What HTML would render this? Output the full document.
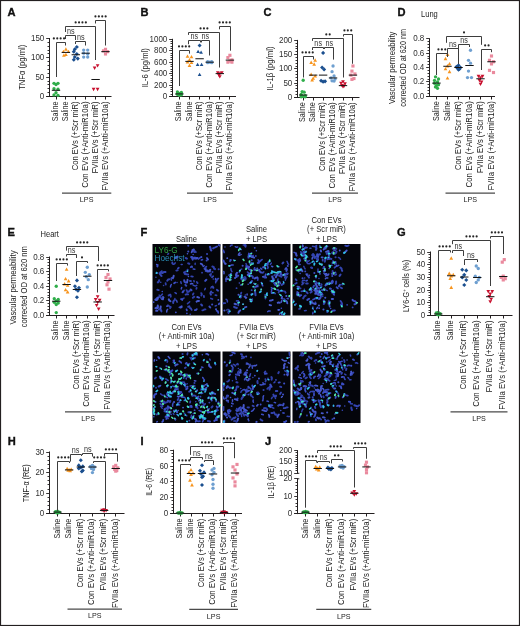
<!DOCTYPE html>
<html><head><meta charset="utf-8"><style>
html,body{margin:0;padding:0;background:#fff;}
body{width:520px;height:626px;overflow:hidden;}
svg{display:block;font-family:"Liberation Sans",sans-serif;will-change:transform;}
</style></head><body>
<svg width="520" height="626" viewBox="0 0 520 626" fill="#231f20">
<rect x="0" y="0" width="520" height="626" fill="#fff"/>
<text transform="translate(7.5 16.1) scale(1.06 1)" font-size="10.5" font-weight="bold" fill="#111" stroke="#111" stroke-width="0.35">A</text>
<line x1="49.5" y1="38" x2="49.5" y2="97" stroke="#231f20" stroke-width="1"/>
<line x1="46.2" y1="96.5" x2="111.5" y2="96.5" stroke="#231f20" stroke-width="1"/>
<text transform="translate(44.3 99.4) scale(0.91 1)" font-size="8.8" text-anchor="end" fill="#2e2e2e">0</text>
<text transform="translate(44.3 80.4) scale(0.91 1)" font-size="8.8" text-anchor="end" fill="#2e2e2e">50</text>
<text transform="translate(44.3 60.4) scale(0.91 1)" font-size="8.8" text-anchor="end" fill="#2e2e2e">100</text>
<text transform="translate(44.3 41.4) scale(0.91 1)" font-size="8.8" text-anchor="end" fill="#2e2e2e">150</text>
<path d="M46.2 96.5h3.3M46.2 77.5h3.3M46.2 57.5h3.3M46.2 38.5h3.3M47.5 92.5h2M47.5 88.5h2M47.5 84.5h2M47.5 81.5h2M47.5 73.5h2M47.5 69.5h2M47.5 65.5h2M47.5 61.5h2M47.5 53.5h2M47.5 50.5h2M47.5 46.5h2M47.5 42.5h2" stroke="#231f20" stroke-width="0.9" fill="none"/>
<path d="M56.5 96.5v3M65.5 96.5v3M75.5 96.5v3M85.5 96.5v3M95.5 96.5v3M105.5 96.5v3" stroke="#231f20" stroke-width="1" fill="none"/>
<text transform="translate(58 101.5) rotate(-90) scale(0.87 1)" font-size="8.2" text-anchor="end" fill="#222222">Saline</text>
<text transform="translate(67.9 101.5) rotate(-90) scale(0.87 1)" font-size="8.2" text-anchor="end" fill="#222222">Saline</text>
<text transform="translate(77.8 101.5) rotate(-90) scale(0.93 1)" font-size="8.2" text-anchor="end" fill="#222222">Con EVs (+Scr miR)</text>
<text transform="translate(87.7 101.5) rotate(-90) scale(0.96 1)" font-size="8.2" text-anchor="end" fill="#222222">Con EVs (+Anti-miR10a)</text>
<text transform="translate(97.6 101.5) rotate(-90) scale(0.915 1)" font-size="8.2" text-anchor="end" fill="#222222">FVIIa EVs (+Scr miR)</text>
<text transform="translate(107.5 101.5) rotate(-90) scale(0.945 1)" font-size="8.2" text-anchor="end" fill="#222222">FVIIa EVs (+Anti-miR10a)</text>
<line x1="62" y1="193.2" x2="111.3" y2="193.2" stroke="#4a4a4a" stroke-width="1.3"/>
<text transform="translate(86.65 202.3) scale(0.9 1)" font-size="8" text-anchor="middle" fill="#222222">LPS</text>
<text transform="translate(25.3 67.25) rotate(-90) scale(0.86 1)" font-size="8.9" text-anchor="middle" fill="#222222">TNFα (pg/ml)</text>
<circle cx="54" cy="83.35" r="1.67" fill="#2fae4a"/>
<circle cx="58" cy="83.35" r="1.67" fill="#2fae4a"/>
<circle cx="56" cy="84.51" r="1.67" fill="#2fae4a"/>
<circle cx="54" cy="88.77" r="1.67" fill="#2fae4a"/>
<circle cx="58" cy="89.15" r="1.67" fill="#2fae4a"/>
<circle cx="56" cy="92.63" r="1.67" fill="#2fae4a"/>
<circle cx="54" cy="94.95" r="1.67" fill="#2fae4a"/>
<circle cx="58" cy="95.34" r="1.67" fill="#2fae4a"/>
<line x1="51.8" y1="90.31" x2="60.2" y2="90.31" stroke="#111" stroke-width="1"/>
<path d="M65.9 47.32L67.76 50.67L64.04 50.67Z" fill="#f7941d"/>
<path d="M63.4 49.64L65.26 52.99L61.54 52.99Z" fill="#f7941d"/>
<path d="M68.4 49.64L70.26 52.99L66.54 52.99Z" fill="#f7941d"/>
<path d="M65.9 52.73L67.76 56.08L64.04 56.08Z" fill="#f7941d"/>
<path d="M63.9 53.5L65.76 56.85L62.04 56.85Z" fill="#f7941d"/>
<line x1="61.7" y1="52.42" x2="70.1" y2="52.42" stroke="#111" stroke-width="1"/>
<path d="M76.8 44.96L78.85 47.01L76.8 49.05L74.75 47.01Z" fill="#1b4f8f"/>
<path d="M74.8 47.28L76.85 49.33L74.8 51.37L72.75 49.33Z" fill="#1b4f8f"/>
<path d="M73.8 49.6L75.85 51.65L73.8 53.69L71.75 51.65Z" fill="#1b4f8f"/>
<path d="M76.8 51.92L78.85 53.97L76.8 56.01L74.75 53.97Z" fill="#1b4f8f"/>
<path d="M74.8 55.01L76.85 57.06L74.8 59.11L72.75 57.06Z" fill="#1b4f8f"/>
<path d="M77.8 56.56L79.85 58.61L77.8 60.65L75.75 58.61Z" fill="#1b4f8f"/>
<path d="M73.8 57.72L75.85 59.77L73.8 61.81L71.75 59.77Z" fill="#1b4f8f"/>
<line x1="71.6" y1="54.74" x2="80" y2="54.74" stroke="#111" stroke-width="1"/>
<circle cx="83.7" cy="50.1" r="1.67" fill="#6e9fd0"/>
<circle cx="87.7" cy="50.1" r="1.67" fill="#6e9fd0"/>
<circle cx="83.7" cy="53.19" r="1.67" fill="#6e9fd0"/>
<circle cx="87.7" cy="53.97" r="1.67" fill="#6e9fd0"/>
<circle cx="83.7" cy="57.06" r="1.67" fill="#6e9fd0"/>
<circle cx="87.7" cy="57.06" r="1.67" fill="#6e9fd0"/>
<line x1="81.5" y1="53.19" x2="89.9" y2="53.19" stroke="#111" stroke-width="1"/>
<path d="M97.6 67.58L99.46 64.23L95.74 64.23Z" fill="#c8102e"/>
<path d="M94.6 69.9L96.46 66.55L92.74 66.55Z" fill="#c8102e"/>
<path d="M93.6 91.16L95.46 87.81L91.74 87.81Z" fill="#c8102e"/>
<path d="M97.6 91.16L99.46 87.81L95.74 87.81Z" fill="#c8102e"/>
<line x1="91.4" y1="79.49" x2="99.8" y2="79.49" stroke="#111" stroke-width="1"/>
<rect x="103.92" y="47.75" width="3.16" height="3.16" fill="#ea8a9e"/>
<rect x="101.92" y="49.29" width="3.16" height="3.16" fill="#ea8a9e"/>
<rect x="105.92" y="50.07" width="3.16" height="3.16" fill="#ea8a9e"/>
<rect x="103.92" y="52.39" width="3.16" height="3.16" fill="#ea8a9e"/>
<line x1="101.3" y1="51.65" x2="109.7" y2="51.65" stroke="#111" stroke-width="1"/>
<path d="M56.5 77V42.5H65.5V45.5" fill="none" stroke="#3d3d3d" stroke-width="1"/>
<circle cx="53.85" cy="38.4" r="1.08" fill="#262626"/><circle cx="57.25" cy="38.4" r="1.08" fill="#262626"/><circle cx="60.65" cy="38.4" r="1.08" fill="#262626"/><circle cx="64.05" cy="38.4" r="1.08" fill="#262626"/>
<path d="M65.5 39V35.5H75.5V40" fill="none" stroke="#3d3d3d" stroke-width="1"/>
<text transform="translate(70.85 33.5) scale(0.88 1)" font-size="8.2" text-anchor="middle" fill="#333">ns</text>
<path d="M75.5 44V41.5H85.5V45.5" fill="none" stroke="#3d3d3d" stroke-width="1"/>
<text transform="translate(80.75 39.5) scale(0.88 1)" font-size="8.2" text-anchor="middle" fill="#333">ns</text>
<path d="M65.5 32V26.5H95.5V60" fill="none" stroke="#3d3d3d" stroke-width="1"/>
<circle cx="75.65" cy="22.4" r="1.08" fill="#262626"/><circle cx="79.05" cy="22.4" r="1.08" fill="#262626"/><circle cx="82.45" cy="22.4" r="1.08" fill="#262626"/><circle cx="85.85" cy="22.4" r="1.08" fill="#262626"/>
<path d="M95.5 23.5V20.5H105.5V45.5" fill="none" stroke="#3d3d3d" stroke-width="1"/>
<circle cx="95.45" cy="16.4" r="1.08" fill="#262626"/><circle cx="98.85" cy="16.4" r="1.08" fill="#262626"/><circle cx="102.25" cy="16.4" r="1.08" fill="#262626"/><circle cx="105.65" cy="16.4" r="1.08" fill="#262626"/>
<text transform="translate(140.5 16.1) scale(1.06 1)" font-size="10.5" font-weight="bold" fill="#111" stroke="#111" stroke-width="0.35">B</text>
<line x1="172.5" y1="38.8" x2="172.5" y2="97" stroke="#231f20" stroke-width="1"/>
<line x1="169.2" y1="96.5" x2="236" y2="96.5" stroke="#231f20" stroke-width="1"/>
<text transform="translate(167.3 99.4) scale(0.91 1)" font-size="8.8" text-anchor="end" fill="#2e2e2e">0</text>
<text transform="translate(167.3 88.4) scale(0.91 1)" font-size="8.8" text-anchor="end" fill="#2e2e2e">200</text>
<text transform="translate(167.3 76.4) scale(0.91 1)" font-size="8.8" text-anchor="end" fill="#2e2e2e">400</text>
<text transform="translate(167.3 65.4) scale(0.91 1)" font-size="8.8" text-anchor="end" fill="#2e2e2e">600</text>
<text transform="translate(167.3 53.4) scale(0.91 1)" font-size="8.8" text-anchor="end" fill="#2e2e2e">800</text>
<text transform="translate(167.3 42.4) scale(0.91 1)" font-size="8.8" text-anchor="end" fill="#2e2e2e">1000</text>
<path d="M169.2 96.5h3.3M169.2 85.5h3.3M169.2 73.5h3.3M169.2 62.5h3.3M169.2 50.5h3.3M169.2 39.5h3.3M170.5 94.5h2M170.5 91.5h2M170.5 89.5h2M170.5 87.5h2M170.5 82.5h2M170.5 80.5h2M170.5 78.5h2M170.5 75.5h2M170.5 71.5h2M170.5 69.5h2M170.5 66.5h2M170.5 64.5h2M170.5 59.5h2M170.5 57.5h2M170.5 55.5h2M170.5 53.5h2M170.5 48.5h2M170.5 46.5h2M170.5 43.5h2M170.5 41.5h2" stroke="#231f20" stroke-width="0.9" fill="none"/>
<path d="M179.5 96.5v3M189.5 96.5v3M199.5 96.5v3M209.5 96.5v3M219.5 96.5v3M229.5 96.5v3" stroke="#231f20" stroke-width="1" fill="none"/>
<text transform="translate(181.4 101.5) rotate(-90) scale(0.87 1)" font-size="8.2" text-anchor="end" fill="#222222">Saline</text>
<text transform="translate(191.5 101.5) rotate(-90) scale(0.87 1)" font-size="8.2" text-anchor="end" fill="#222222">Saline</text>
<text transform="translate(201.6 101.5) rotate(-90) scale(0.93 1)" font-size="8.2" text-anchor="end" fill="#222222">Con EVs (+Scr miR)</text>
<text transform="translate(211.7 101.5) rotate(-90) scale(0.96 1)" font-size="8.2" text-anchor="end" fill="#222222">Con EVs (+Anti-miR10a)</text>
<text transform="translate(221.8 101.5) rotate(-90) scale(0.915 1)" font-size="8.2" text-anchor="end" fill="#222222">FVIIa EVs (+Scr miR)</text>
<text transform="translate(231.9 101.5) rotate(-90) scale(0.945 1)" font-size="8.2" text-anchor="end" fill="#222222">FVIIa EVs (+Anti-miR10a)</text>
<line x1="187" y1="193.2" x2="233" y2="193.2" stroke="#4a4a4a" stroke-width="1.3"/>
<text transform="translate(210 202.3) scale(0.9 1)" font-size="8" text-anchor="middle" fill="#222222">LPS</text>
<text transform="translate(147.6 67.8) rotate(-90) scale(0.86 1)" font-size="8.9" text-anchor="middle" fill="#222222">IL-6 (pg/ml)</text>
<circle cx="177.4" cy="91.92" r="1.67" fill="#2fae4a"/>
<circle cx="181.4" cy="92.5" r="1.67" fill="#2fae4a"/>
<circle cx="179.4" cy="93.35" r="1.67" fill="#2fae4a"/>
<circle cx="177.4" cy="94.21" r="1.67" fill="#2fae4a"/>
<circle cx="181.4" cy="94.78" r="1.67" fill="#2fae4a"/>
<circle cx="179.4" cy="95.36" r="1.67" fill="#2fae4a"/>
<line x1="175.2" y1="93.93" x2="183.6" y2="93.93" stroke="#111" stroke-width="1"/>
<path d="M187.5 54.45L189.36 57.8L185.64 57.8Z" fill="#f7941d"/>
<path d="M191.5 55.02L193.36 58.37L189.64 58.37Z" fill="#f7941d"/>
<path d="M189.5 57.88L191.36 61.23L187.64 61.23Z" fill="#f7941d"/>
<path d="M187.5 60.17L189.36 63.52L185.64 63.52Z" fill="#f7941d"/>
<path d="M191.5 60.74L193.36 64.09L189.64 64.09Z" fill="#f7941d"/>
<path d="M189.5 63.6L191.36 66.95L187.64 66.95Z" fill="#f7941d"/>
<line x1="185.3" y1="61.38" x2="193.7" y2="61.38" stroke="#111" stroke-width="1"/>
<path d="M199.6 43.49L201.65 45.53L199.6 47.58L197.55 45.53Z" fill="#1b4f8f"/>
<path d="M198.1 49.76L199.96 53.11L196.24 53.11Z" fill="#1b4f8f"/>
<path d="M201.1 50.39L202.96 53.74L199.24 53.74Z" fill="#1b4f8f"/>
<path d="M197.6 62.75L199.46 66.09L195.74 66.09Z" fill="#1b4f8f"/>
<path d="M201.6 62.75L203.46 66.09L199.74 66.09Z" fill="#1b4f8f"/>
<path d="M199.6 72.76L201.46 76.1L197.74 76.1Z" fill="#1b4f8f"/>
<line x1="195.4" y1="58.75" x2="203.8" y2="58.75" stroke="#111" stroke-width="1"/>
<circle cx="207.7" cy="61.61" r="1.67" fill="#6e9fd0"/>
<circle cx="211.7" cy="61.61" r="1.67" fill="#6e9fd0"/>
<circle cx="209.7" cy="62.18" r="1.67" fill="#6e9fd0"/>
<circle cx="207.7" cy="62.64" r="1.67" fill="#6e9fd0"/>
<circle cx="211.7" cy="62.64" r="1.67" fill="#6e9fd0"/>
<line x1="205.5" y1="62.18" x2="213.9" y2="62.18" stroke="#111" stroke-width="1"/>
<path d="M217.8 74.48L219.66 71.14L215.94 71.14Z" fill="#c8102e"/>
<path d="M221.8 74.48L223.66 71.14L219.94 71.14Z" fill="#c8102e"/>
<path d="M219.8 75.63L221.66 72.28L217.94 72.28Z" fill="#c8102e"/>
<path d="M218.8 76.77L220.66 73.42L216.94 73.42Z" fill="#c8102e"/>
<path d="M219.8 78.49L221.66 75.14L217.94 75.14Z" fill="#c8102e"/>
<line x1="215.6" y1="73.62" x2="224" y2="73.62" stroke="#111" stroke-width="1"/>
<rect x="228.32" y="53.73" width="3.16" height="3.16" fill="#ea8a9e"/>
<rect x="226.32" y="56.02" width="3.16" height="3.16" fill="#ea8a9e"/>
<rect x="230.32" y="58.31" width="3.16" height="3.16" fill="#ea8a9e"/>
<rect x="228.32" y="59.45" width="3.16" height="3.16" fill="#ea8a9e"/>
<rect x="226.32" y="60.6" width="3.16" height="3.16" fill="#ea8a9e"/>
<rect x="230.32" y="60.6" width="3.16" height="3.16" fill="#ea8a9e"/>
<line x1="225.7" y1="60.12" x2="234.1" y2="60.12" stroke="#111" stroke-width="1"/>
<path d="M179.5 86V50.5H189.5V53.6" fill="none" stroke="#3d3d3d" stroke-width="1"/>
<circle cx="179" cy="46.4" r="1.08" fill="#262626"/><circle cx="182.4" cy="46.4" r="1.08" fill="#262626"/><circle cx="185.8" cy="46.4" r="1.08" fill="#262626"/><circle cx="189.2" cy="46.4" r="1.08" fill="#262626"/>
<path d="M188.5 44.25V40.5H200.5V42.4" fill="none" stroke="#3d3d3d" stroke-width="1"/>
<text transform="translate(194.25 38.5) scale(0.88 1)" font-size="8.2" text-anchor="middle" fill="#333">ns</text>
<path d="M201.5 42.4V40.5H209.5V55.5" fill="none" stroke="#3d3d3d" stroke-width="1"/>
<text transform="translate(205.2 38.5) scale(0.88 1)" font-size="8.2" text-anchor="middle" fill="#333">ns</text>
<path d="M188.5 34.9V32.5H219.5V67.5" fill="none" stroke="#3d3d3d" stroke-width="1"/>
<circle cx="200.55" cy="28.4" r="1.08" fill="#262626"/><circle cx="203.95" cy="28.4" r="1.08" fill="#262626"/><circle cx="207.35" cy="28.4" r="1.08" fill="#262626"/>
<path d="M219.5 29.3V26.5H230.5V50.7" fill="none" stroke="#3d3d3d" stroke-width="1"/>
<circle cx="219.6" cy="22.4" r="1.08" fill="#262626"/><circle cx="223" cy="22.4" r="1.08" fill="#262626"/><circle cx="226.4" cy="22.4" r="1.08" fill="#262626"/><circle cx="229.8" cy="22.4" r="1.08" fill="#262626"/>
<text transform="translate(263.5 16.1) scale(1.06 1)" font-size="10.5" font-weight="bold" fill="#111" stroke="#111" stroke-width="0.35">C</text>
<line x1="297.5" y1="39.9" x2="297.5" y2="98" stroke="#231f20" stroke-width="1"/>
<line x1="294.2" y1="97.5" x2="359.5" y2="97.5" stroke="#231f20" stroke-width="1"/>
<text transform="translate(292.3 100.4) scale(0.91 1)" font-size="8.8" text-anchor="end" fill="#2e2e2e">0</text>
<text transform="translate(292.3 86.4) scale(0.91 1)" font-size="8.8" text-anchor="end" fill="#2e2e2e">50</text>
<text transform="translate(292.3 71.4) scale(0.91 1)" font-size="8.8" text-anchor="end" fill="#2e2e2e">100</text>
<text transform="translate(292.3 57.4) scale(0.91 1)" font-size="8.8" text-anchor="end" fill="#2e2e2e">150</text>
<text transform="translate(292.3 43.4) scale(0.91 1)" font-size="8.8" text-anchor="end" fill="#2e2e2e">200</text>
<path d="M294.2 97.5h3.3M294.2 83.5h3.3M294.2 68.5h3.3M294.2 54.5h3.3M294.2 40.5h3.3M295.5 94.5h2M295.5 91.5h2M295.5 88.5h2M295.5 85.5h2M295.5 80.5h2M295.5 77.5h2M295.5 74.5h2M295.5 71.5h2M295.5 66.5h2M295.5 63.5h2M295.5 60.5h2M295.5 57.5h2M295.5 51.5h2M295.5 48.5h2M295.5 46.5h2M295.5 43.5h2" stroke="#231f20" stroke-width="0.9" fill="none"/>
<path d="M303.5 97.5v3M313.5 97.5v3M323.5 97.5v3M333.5 97.5v3M343.5 97.5v3M352.5 97.5v3" stroke="#231f20" stroke-width="1" fill="none"/>
<text transform="translate(305.2 102.3) rotate(-90) scale(0.87 1)" font-size="8.2" text-anchor="end" fill="#222222">Saline</text>
<text transform="translate(315.15 102.3) rotate(-90) scale(0.87 1)" font-size="8.2" text-anchor="end" fill="#222222">Saline</text>
<text transform="translate(325.1 102.3) rotate(-90) scale(0.93 1)" font-size="8.2" text-anchor="end" fill="#222222">Con EVs (+Scr miR)</text>
<text transform="translate(335.05 102.3) rotate(-90) scale(0.96 1)" font-size="8.2" text-anchor="end" fill="#222222">Con EVs (+Anti-miR10a)</text>
<text transform="translate(345 102.3) rotate(-90) scale(0.915 1)" font-size="8.2" text-anchor="end" fill="#222222">FVIIa EVs (+Scr miR)</text>
<text transform="translate(354.95 102.3) rotate(-90) scale(0.945 1)" font-size="8.2" text-anchor="end" fill="#222222">FVIIa EVs (+Anti-miR10a)</text>
<line x1="312" y1="193.2" x2="358" y2="193.2" stroke="#4a4a4a" stroke-width="1.3"/>
<text transform="translate(335 202.3) scale(0.9 1)" font-size="8" text-anchor="middle" fill="#222222">LPS</text>
<text transform="translate(273.1 68.5) rotate(-90) scale(0.87 1)" font-size="8.9" text-anchor="middle" fill="#222222">IL-1β (pg/ml)</text>
<circle cx="303.2" cy="80.23" r="1.67" fill="#2fae4a"/>
<circle cx="302.2" cy="91.61" r="1.67" fill="#2fae4a"/>
<circle cx="304.2" cy="92.18" r="1.67" fill="#2fae4a"/>
<circle cx="301.2" cy="94.45" r="1.67" fill="#2fae4a"/>
<circle cx="305.2" cy="95.59" r="1.67" fill="#2fae4a"/>
<circle cx="303.2" cy="96.45" r="1.67" fill="#2fae4a"/>
<circle cx="301.2" cy="96.73" r="1.67" fill="#2fae4a"/>
<circle cx="305.2" cy="96.73" r="1.67" fill="#2fae4a"/>
<line x1="299" y1="95.02" x2="307.4" y2="95.02" stroke="#111" stroke-width="1"/>
<path d="M315.15 58.31L317.01 61.65L313.29 61.65Z" fill="#f7941d"/>
<path d="M311.15 60.58L313.01 63.93L309.29 63.93Z" fill="#f7941d"/>
<path d="M314.15 62.29L316.01 65.64L312.29 65.64Z" fill="#f7941d"/>
<path d="M311.15 72.53L313.01 75.88L309.29 75.88Z" fill="#f7941d"/>
<path d="M315.15 74.24L317.01 77.59L313.29 77.59Z" fill="#f7941d"/>
<path d="M313.15 76.51L315.01 79.86L311.29 79.86Z" fill="#f7941d"/>
<path d="M312.15 78.22L314.01 81.57L310.29 81.57Z" fill="#f7941d"/>
<line x1="308.95" y1="75.11" x2="317.35" y2="75.11" stroke="#111" stroke-width="1"/>
<path d="M323.1 50.87L325.15 52.92L323.1 54.96L321.05 52.92Z" fill="#1b4f8f"/>
<path d="M322.1 65.38L324.15 67.43L322.1 69.47L320.05 67.43Z" fill="#1b4f8f"/>
<path d="M324.1 67.37L326.15 69.42L324.1 71.47L322.05 69.42Z" fill="#1b4f8f"/>
<path d="M321.1 78.75L323.15 80.8L321.1 82.85L319.05 80.8Z" fill="#1b4f8f"/>
<path d="M325.1 79.32L327.15 81.37L325.1 83.41L323.05 81.37Z" fill="#1b4f8f"/>
<path d="M323.1 79.61L325.15 81.65L323.1 83.7L321.05 81.65Z" fill="#1b4f8f"/>
<line x1="318.9" y1="75.11" x2="327.3" y2="75.11" stroke="#111" stroke-width="1"/>
<circle cx="333.05" cy="66" r="1.67" fill="#6e9fd0"/>
<circle cx="332.05" cy="71.69" r="1.67" fill="#6e9fd0"/>
<circle cx="334.05" cy="75.96" r="1.67" fill="#6e9fd0"/>
<circle cx="331.05" cy="77.95" r="1.67" fill="#6e9fd0"/>
<circle cx="335.05" cy="79.09" r="1.67" fill="#6e9fd0"/>
<circle cx="332.05" cy="80.8" r="1.67" fill="#6e9fd0"/>
<circle cx="334.05" cy="81.08" r="1.67" fill="#6e9fd0"/>
<line x1="328.85" y1="77.95" x2="337.25" y2="77.95" stroke="#111" stroke-width="1"/>
<path d="M343 83.66L344.86 80.31L341.14 80.31Z" fill="#c8102e"/>
<path d="M341 85.08L342.86 81.74L339.14 81.74Z" fill="#c8102e"/>
<path d="M345 85.65L346.86 82.3L343.14 82.3Z" fill="#c8102e"/>
<path d="M342 87.36L343.86 84.01L340.14 84.01Z" fill="#c8102e"/>
<path d="M344 87.93L345.86 84.58L342.14 84.58Z" fill="#c8102e"/>
<path d="M343 88.5L344.86 85.15L341.14 85.15Z" fill="#c8102e"/>
<line x1="338.8" y1="85.64" x2="347.2" y2="85.64" stroke="#111" stroke-width="1"/>
<rect x="351.37" y="64.42" width="3.16" height="3.16" fill="#ea8a9e"/>
<rect x="350.37" y="69.55" width="3.16" height="3.16" fill="#ea8a9e"/>
<rect x="353.37" y="72.39" width="3.16" height="3.16" fill="#ea8a9e"/>
<rect x="349.37" y="73.53" width="3.16" height="3.16" fill="#ea8a9e"/>
<rect x="352.37" y="76.94" width="3.16" height="3.16" fill="#ea8a9e"/>
<rect x="350.37" y="77.8" width="3.16" height="3.16" fill="#ea8a9e"/>
<line x1="348.75" y1="75.11" x2="357.15" y2="75.11" stroke="#111" stroke-width="1"/>
<path d="M303.5 77.5V56.5H313.5V59.5" fill="none" stroke="#3d3d3d" stroke-width="1"/>
<circle cx="302.52" cy="52.4" r="1.08" fill="#262626"/><circle cx="305.92" cy="52.4" r="1.08" fill="#262626"/><circle cx="309.32" cy="52.4" r="1.08" fill="#262626"/><circle cx="312.72" cy="52.4" r="1.08" fill="#262626"/>
<path d="M312.5 50V47.5H323.5V49" fill="none" stroke="#3d3d3d" stroke-width="1"/>
<text transform="translate(318.18 45.5) scale(0.88 1)" font-size="8.2" text-anchor="middle" fill="#333">ns</text>
<path d="M324.5 49V47.5H333.5V59.6" fill="none" stroke="#3d3d3d" stroke-width="1"/>
<text transform="translate(329.25 45.5) scale(0.88 1)" font-size="8.2" text-anchor="middle" fill="#333">ns</text>
<path d="M312.5 40.9V38.5H343.5V77.5" fill="none" stroke="#3d3d3d" stroke-width="1"/>
<circle cx="326.3" cy="34.4" r="1.08" fill="#262626"/><circle cx="329.7" cy="34.4" r="1.08" fill="#262626"/>
<path d="M343.5 36.5V34.5H352.5V63.75" fill="none" stroke="#3d3d3d" stroke-width="1"/>
<circle cx="344.43" cy="30.4" r="1.08" fill="#262626"/><circle cx="347.82" cy="30.4" r="1.08" fill="#262626"/><circle cx="351.23" cy="30.4" r="1.08" fill="#262626"/>
<text transform="translate(397.4 16.1) scale(1.06 1)" font-size="10.5" font-weight="bold" fill="#111" stroke="#111" stroke-width="0.35">D</text>
<line x1="429.5" y1="38.25" x2="429.5" y2="97" stroke="#231f20" stroke-width="1"/>
<line x1="426.2" y1="96.5" x2="495" y2="96.5" stroke="#231f20" stroke-width="1"/>
<text transform="translate(424.3 99.4) scale(0.91 1)" font-size="8.8" text-anchor="end" fill="#2e2e2e">0.0</text>
<text transform="translate(424.3 84.4) scale(0.91 1)" font-size="8.8" text-anchor="end" fill="#2e2e2e">0.2</text>
<text transform="translate(424.3 70.4) scale(0.91 1)" font-size="8.8" text-anchor="end" fill="#2e2e2e">0.4</text>
<text transform="translate(424.3 56.4) scale(0.91 1)" font-size="8.8" text-anchor="end" fill="#2e2e2e">0.6</text>
<text transform="translate(424.3 41.4) scale(0.91 1)" font-size="8.8" text-anchor="end" fill="#2e2e2e">0.8</text>
<path d="M426.2 96.5h3.3M426.2 81.5h3.3M426.2 67.5h3.3M426.2 53.5h3.3M426.2 38.5h3.3M427.5 93.5h2M427.5 90.5h2M427.5 87.5h2M427.5 84.5h2M427.5 79.5h2M427.5 76.5h2M427.5 73.5h2M427.5 70.5h2M427.5 64.5h2M427.5 61.5h2M427.5 58.5h2M427.5 56.5h2M427.5 50.5h2M427.5 47.5h2M427.5 44.5h2M427.5 41.5h2" stroke="#231f20" stroke-width="0.9" fill="none"/>
<path d="M436.5 96.5v3M447.5 96.5v3M458.5 96.5v3M469.5 96.5v3M480.5 96.5v3M491.5 96.5v3" stroke="#231f20" stroke-width="1" fill="none"/>
<text transform="translate(438.5 101.25) rotate(-90) scale(0.87 1)" font-size="8.2" text-anchor="end" fill="#222222">Saline</text>
<text transform="translate(449.5 101.25) rotate(-90) scale(0.87 1)" font-size="8.2" text-anchor="end" fill="#222222">Saline</text>
<text transform="translate(460.5 101.25) rotate(-90) scale(0.93 1)" font-size="8.2" text-anchor="end" fill="#222222">Con EVs (+Scr miR)</text>
<text transform="translate(471.5 101.25) rotate(-90) scale(0.96 1)" font-size="8.2" text-anchor="end" fill="#222222">Con EVs (+Anti-miR10a)</text>
<text transform="translate(482.5 101.25) rotate(-90) scale(0.915 1)" font-size="8.2" text-anchor="end" fill="#222222">FVIIa EVs (+Scr miR)</text>
<text transform="translate(493.5 101.25) rotate(-90) scale(0.945 1)" font-size="8.2" text-anchor="end" fill="#222222">FVIIa EVs (+Anti-miR10a)</text>
<line x1="445.5" y1="193.2" x2="495" y2="193.2" stroke="#4a4a4a" stroke-width="1.3"/>
<text transform="translate(470.25 202.3) scale(0.9 1)" font-size="8" text-anchor="middle" fill="#222222">LPS</text>
<text transform="translate(395.4 67.8) rotate(-90) scale(0.9 1)" font-size="8.5" text-anchor="middle" fill="#222222">Vascular permeability</text>
<text transform="translate(406.4 67.8) rotate(-90) scale(0.86 1)" font-size="8.5" text-anchor="middle" fill="#222222">corrected OD at 620 nm</text>
<circle cx="435.5" cy="76.84" r="1.67" fill="#2fae4a"/>
<circle cx="438.5" cy="79" r="1.67" fill="#2fae4a"/>
<circle cx="434.5" cy="80.44" r="1.67" fill="#2fae4a"/>
<circle cx="437.5" cy="81.88" r="1.67" fill="#2fae4a"/>
<circle cx="434.5" cy="83.31" r="1.67" fill="#2fae4a"/>
<circle cx="438.5" cy="84.75" r="1.67" fill="#2fae4a"/>
<circle cx="436.5" cy="85.47" r="1.67" fill="#2fae4a"/>
<circle cx="435.5" cy="86.91" r="1.67" fill="#2fae4a"/>
<circle cx="437.5" cy="88.34" r="1.67" fill="#2fae4a"/>
<line x1="432.3" y1="83.1" x2="440.7" y2="83.1" stroke="#111" stroke-width="1"/>
<path d="M447.5 52.55L449.36 55.9L445.64 55.9Z" fill="#f7941d"/>
<path d="M445.5 56.87L447.36 60.21L443.64 60.21Z" fill="#f7941d"/>
<path d="M449.5 61.9L451.36 65.25L447.64 65.25Z" fill="#f7941d"/>
<path d="M447.5 64.05L449.36 67.4L445.64 67.4Z" fill="#f7941d"/>
<path d="M445.5 66.93L447.36 70.28L443.64 70.28Z" fill="#f7941d"/>
<path d="M449.5 69.8L451.36 73.15L447.64 73.15Z" fill="#f7941d"/>
<path d="M447.5 76.27L449.36 79.62L445.64 79.62Z" fill="#f7941d"/>
<line x1="443.3" y1="66.28" x2="451.7" y2="66.28" stroke="#111" stroke-width="1"/>
<path d="M458.5 63.3L460.55 65.34L458.5 67.39L456.45 65.34Z" fill="#1b4f8f"/>
<path d="M456.5 64.74L458.55 66.78L456.5 68.83L454.45 66.78Z" fill="#1b4f8f"/>
<path d="M460.5 65.45L462.55 67.5L460.5 69.55L458.45 67.5Z" fill="#1b4f8f"/>
<path d="M457.5 66.17L459.55 68.22L457.5 70.26L455.45 68.22Z" fill="#1b4f8f"/>
<path d="M459.5 66.89L461.55 68.94L459.5 70.98L457.45 68.94Z" fill="#1b4f8f"/>
<path d="M458.5 67.61L460.55 69.66L458.5 71.7L456.45 69.66Z" fill="#1b4f8f"/>
<line x1="454.3" y1="67.5" x2="462.7" y2="67.5" stroke="#111" stroke-width="1"/>
<circle cx="470.5" cy="50.25" r="1.67" fill="#6e9fd0"/>
<circle cx="468.5" cy="60.31" r="1.67" fill="#6e9fd0"/>
<circle cx="470.5" cy="63.19" r="1.67" fill="#6e9fd0"/>
<circle cx="468.5" cy="71.09" r="1.67" fill="#6e9fd0"/>
<circle cx="467.5" cy="77.56" r="1.67" fill="#6e9fd0"/>
<circle cx="471.5" cy="77.56" r="1.67" fill="#6e9fd0"/>
<line x1="465.3" y1="65.49" x2="473.7" y2="65.49" stroke="#111" stroke-width="1"/>
<path d="M478.5 78.13L480.36 74.79L476.64 74.79Z" fill="#c8102e"/>
<path d="M482.5 78.13L484.36 74.79L480.64 74.79Z" fill="#c8102e"/>
<path d="M480.5 79.57L482.36 76.22L478.64 76.22Z" fill="#c8102e"/>
<path d="M479.5 82.45L481.36 79.1L477.64 79.1Z" fill="#c8102e"/>
<path d="M481.5 83.88L483.36 80.54L479.64 80.54Z" fill="#c8102e"/>
<path d="M480.5 86.04L482.36 82.69L478.64 82.69Z" fill="#c8102e"/>
<line x1="476.3" y1="78.78" x2="484.7" y2="78.78" stroke="#111" stroke-width="1"/>
<rect x="489.92" y="54.42" width="3.16" height="3.16" fill="#ea8a9e"/>
<rect x="487.92" y="58.73" width="3.16" height="3.16" fill="#ea8a9e"/>
<rect x="491.92" y="60.17" width="3.16" height="3.16" fill="#ea8a9e"/>
<rect x="489.92" y="62.33" width="3.16" height="3.16" fill="#ea8a9e"/>
<rect x="487.92" y="68.79" width="3.16" height="3.16" fill="#ea8a9e"/>
<rect x="491.92" y="70.95" width="3.16" height="3.16" fill="#ea8a9e"/>
<line x1="487.3" y1="61.75" x2="495.7" y2="61.75" stroke="#111" stroke-width="1"/>
<path d="M436.5 75V53.5H447.5V57" fill="none" stroke="#3d3d3d" stroke-width="1"/>
<circle cx="438.45" cy="49.4" r="1.08" fill="#262626"/><circle cx="441.85" cy="49.4" r="1.08" fill="#262626"/><circle cx="445.25" cy="49.4" r="1.08" fill="#262626"/>
<path d="M447.5 53.6V48.5H458.5V64" fill="none" stroke="#3d3d3d" stroke-width="1"/>
<text transform="translate(452.9 46.5) scale(0.88 1)" font-size="8.2" text-anchor="middle" fill="#333">ns</text>
<path d="M458.5 48.9V44.5H469.5V47" fill="none" stroke="#3d3d3d" stroke-width="1"/>
<text transform="translate(464 42.5) scale(0.88 1)" font-size="8.2" text-anchor="middle" fill="#333">ns</text>
<path d="M446.5 42.8V36.5H481.5V44.8" fill="none" stroke="#3d3d3d" stroke-width="1"/>
<circle cx="464" cy="32.4" r="1.08" fill="#262626"/>
<path d="M481.5 70V49.5H491.5V52.2" fill="none" stroke="#3d3d3d" stroke-width="1"/>
<circle cx="485.15" cy="45.4" r="1.08" fill="#262626"/><circle cx="488.55" cy="45.4" r="1.08" fill="#262626"/>
<text transform="translate(421 17) scale(0.9 1)" font-size="8.4" fill="#222222">Lung</text>
<text transform="translate(7.6 235.9) scale(1.06 1)" font-size="10.5" font-weight="bold" fill="#111" stroke="#111" stroke-width="0.35">E</text>
<line x1="49.5" y1="256.5" x2="49.5" y2="316" stroke="#231f20" stroke-width="1"/>
<line x1="46.2" y1="315.5" x2="114.5" y2="315.5" stroke="#231f20" stroke-width="1"/>
<text transform="translate(44.3 318.4) scale(0.91 1)" font-size="8.8" text-anchor="end" fill="#2e2e2e">0.0</text>
<text transform="translate(44.3 303.4) scale(0.91 1)" font-size="8.8" text-anchor="end" fill="#2e2e2e">0.2</text>
<text transform="translate(44.3 289.4) scale(0.91 1)" font-size="8.8" text-anchor="end" fill="#2e2e2e">0.4</text>
<text transform="translate(44.3 274.4) scale(0.91 1)" font-size="8.8" text-anchor="end" fill="#2e2e2e">0.6</text>
<text transform="translate(44.3 260.4) scale(0.91 1)" font-size="8.8" text-anchor="end" fill="#2e2e2e">0.8</text>
<path d="M46.2 315.5h3.3M46.2 300.5h3.3M46.2 286.5h3.3M46.2 271.5h3.3M46.2 257.5h3.3M47.5 312.5h2M47.5 309.5h2M47.5 306.5h2M47.5 303.5h2M47.5 297.5h2M47.5 295.5h2M47.5 292.5h2M47.5 289.5h2M47.5 283.5h2M47.5 280.5h2M47.5 277.5h2M47.5 274.5h2M47.5 268.5h2M47.5 265.5h2M47.5 262.5h2M47.5 259.5h2" stroke="#231f20" stroke-width="0.9" fill="none"/>
<path d="M56.5 315.5v3M66.5 315.5v3M76.5 315.5v3M87.5 315.5v3M97.5 315.5v3M108.5 315.5v3" stroke="#231f20" stroke-width="1" fill="none"/>
<text transform="translate(58.25 320.5) rotate(-90) scale(0.87 1)" font-size="8.2" text-anchor="end" fill="#222222">Saline</text>
<text transform="translate(68.6 320.5) rotate(-90) scale(0.87 1)" font-size="8.2" text-anchor="end" fill="#222222">Saline</text>
<text transform="translate(78.95 320.5) rotate(-90) scale(0.93 1)" font-size="8.2" text-anchor="end" fill="#222222">Con EVs (+Scr miR)</text>
<text transform="translate(89.3 320.5) rotate(-90) scale(0.96 1)" font-size="8.2" text-anchor="end" fill="#222222">Con EVs (+Anti-miR10a)</text>
<text transform="translate(99.65 320.5) rotate(-90) scale(0.915 1)" font-size="8.2" text-anchor="end" fill="#222222">FVIIa EVs (+Scr miR)</text>
<text transform="translate(110 320.5) rotate(-90) scale(0.945 1)" font-size="8.2" text-anchor="end" fill="#222222">FVIIa EVs (+Anti-miR10a)</text>
<line x1="65" y1="411.95" x2="111.25" y2="411.95" stroke="#4a4a4a" stroke-width="1.3"/>
<text transform="translate(88.12 421.05) scale(0.9 1)" font-size="8" text-anchor="middle" fill="#222222">LPS</text>
<text transform="translate(16.4 287.5) rotate(-90) scale(0.9 1)" font-size="8.7" text-anchor="middle" fill="#222222">Vascular permeability</text>
<text transform="translate(27.4 286.7) rotate(-90) scale(0.875 1)" font-size="8.7" text-anchor="middle" fill="#222222">corrected OD at 620 nm</text>
<circle cx="56.25" cy="286.25" r="1.67" fill="#2fae4a"/>
<circle cx="54.25" cy="298.68" r="1.67" fill="#2fae4a"/>
<circle cx="58.25" cy="299.41" r="1.67" fill="#2fae4a"/>
<circle cx="56.25" cy="300.88" r="1.67" fill="#2fae4a"/>
<circle cx="54.25" cy="302.34" r="1.67" fill="#2fae4a"/>
<circle cx="58.25" cy="303.07" r="1.67" fill="#2fae4a"/>
<circle cx="56.25" cy="304.53" r="1.67" fill="#2fae4a"/>
<circle cx="56.25" cy="312.57" r="1.67" fill="#2fae4a"/>
<line x1="52.05" y1="301.24" x2="60.45" y2="301.24" stroke="#111" stroke-width="1"/>
<path d="M66.6 267.42L68.46 270.77L64.74 270.77Z" fill="#f7941d"/>
<path d="M65.6 276.93L67.46 280.28L63.74 280.28Z" fill="#f7941d"/>
<path d="M68.6 279.12L70.46 282.47L66.74 282.47Z" fill="#f7941d"/>
<path d="M64.6 282.05L66.46 285.4L62.74 285.4Z" fill="#f7941d"/>
<path d="M67.6 283.51L69.46 286.86L65.74 286.86Z" fill="#f7941d"/>
<path d="M65.6 287.9L67.46 291.25L63.74 291.25Z" fill="#f7941d"/>
<path d="M67.6 290.09L69.46 293.44L65.74 293.44Z" fill="#f7941d"/>
<line x1="62.4" y1="284.5" x2="70.8" y2="284.5" stroke="#111" stroke-width="1"/>
<path d="M76.95 278.35L79 280.4L76.95 282.45L74.9 280.4Z" fill="#1b4f8f"/>
<path d="M74.95 284.2L77 286.25L74.95 288.3L72.9 286.25Z" fill="#1b4f8f"/>
<path d="M78.95 285.67L81 287.71L78.95 289.76L76.9 287.71Z" fill="#1b4f8f"/>
<path d="M75.95 287.13L78 289.18L75.95 291.22L73.9 289.18Z" fill="#1b4f8f"/>
<path d="M77.95 288.59L80 290.64L77.95 292.68L75.9 290.64Z" fill="#1b4f8f"/>
<path d="M76.95 295.17L79 297.22L76.95 299.26L74.9 297.22Z" fill="#1b4f8f"/>
<line x1="72.75" y1="289.47" x2="81.15" y2="289.47" stroke="#111" stroke-width="1"/>
<circle cx="87.3" cy="267.24" r="1.67" fill="#6e9fd0"/>
<circle cx="85.3" cy="272.36" r="1.67" fill="#6e9fd0"/>
<circle cx="89.3" cy="274.55" r="1.67" fill="#6e9fd0"/>
<circle cx="86.3" cy="276.74" r="1.67" fill="#6e9fd0"/>
<circle cx="88.3" cy="279.67" r="1.67" fill="#6e9fd0"/>
<circle cx="87.3" cy="286.98" r="1.67" fill="#6e9fd0"/>
<line x1="83.1" y1="276.23" x2="91.5" y2="276.23" stroke="#111" stroke-width="1"/>
<path d="M97.65 298.5L99.51 295.15L95.79 295.15Z" fill="#c8102e"/>
<path d="M95.65 301.42L97.51 298.07L93.79 298.07Z" fill="#c8102e"/>
<path d="M99.65 302.15L101.51 298.8L97.79 298.8Z" fill="#c8102e"/>
<path d="M97.65 304.35L99.51 301L95.79 301Z" fill="#c8102e"/>
<path d="M96.65 307.27L98.51 303.92L94.79 303.92Z" fill="#c8102e"/>
<path d="M98.65 310.93L100.51 307.58L96.79 307.58Z" fill="#c8102e"/>
<line x1="93.45" y1="301.97" x2="101.85" y2="301.97" stroke="#111" stroke-width="1"/>
<rect x="106.42" y="272.97" width="3.16" height="3.16" fill="#ea8a9e"/>
<rect x="104.42" y="275.89" width="3.16" height="3.16" fill="#ea8a9e"/>
<rect x="108.42" y="277.36" width="3.16" height="3.16" fill="#ea8a9e"/>
<rect x="106.42" y="280.28" width="3.16" height="3.16" fill="#ea8a9e"/>
<rect x="105.42" y="283.21" width="3.16" height="3.16" fill="#ea8a9e"/>
<rect x="107.42" y="287.59" width="3.16" height="3.16" fill="#ea8a9e"/>
<line x1="103.8" y1="280.47" x2="112.2" y2="280.47" stroke="#111" stroke-width="1"/>
<path d="M56.5 281V263.5H67.5V265.6" fill="none" stroke="#3d3d3d" stroke-width="1"/>
<circle cx="56.65" cy="259.4" r="1.08" fill="#262626"/><circle cx="60.05" cy="259.4" r="1.08" fill="#262626"/><circle cx="63.45" cy="259.4" r="1.08" fill="#262626"/><circle cx="66.85" cy="259.4" r="1.08" fill="#262626"/>
<path d="M66.5 256.5V254.5H76.5V258" fill="none" stroke="#3d3d3d" stroke-width="1"/>
<text transform="translate(71.58 252.5) scale(0.88 1)" font-size="8.2" text-anchor="middle" fill="#333">ns</text>
<path d="M76.5 276V261.5H87.5V263" fill="none" stroke="#3d3d3d" stroke-width="1"/>
<circle cx="82" cy="257.4" r="1.08" fill="#262626"/>
<path d="M66.5 250.6V246.5H98.5V261" fill="none" stroke="#3d3d3d" stroke-width="1"/>
<circle cx="77.08" cy="242.4" r="1.08" fill="#262626"/><circle cx="80.48" cy="242.4" r="1.08" fill="#262626"/><circle cx="83.88" cy="242.4" r="1.08" fill="#262626"/><circle cx="87.28" cy="242.4" r="1.08" fill="#262626"/>
<path d="M97.5 292.5V269.5H108.5V271.4" fill="none" stroke="#3d3d3d" stroke-width="1"/>
<circle cx="97.65" cy="265.4" r="1.08" fill="#262626"/><circle cx="101.05" cy="265.4" r="1.08" fill="#262626"/><circle cx="104.45" cy="265.4" r="1.08" fill="#262626"/><circle cx="107.85" cy="265.4" r="1.08" fill="#262626"/>
<text transform="translate(40.5 236.5) scale(0.9 1)" font-size="8.4" fill="#222222">Heart</text>
<text transform="translate(397 235.9) scale(1.06 1)" font-size="10.5" font-weight="bold" fill="#111" stroke="#111" stroke-width="0.35">G</text>
<line x1="430.5" y1="251.5" x2="430.5" y2="316" stroke="#231f20" stroke-width="1"/>
<line x1="427.2" y1="315.5" x2="512.5" y2="315.5" stroke="#231f20" stroke-width="1"/>
<text transform="translate(425.3 318.4) scale(0.91 1)" font-size="8.8" text-anchor="end" fill="#2e2e2e">0</text>
<text transform="translate(425.3 305.4) scale(0.91 1)" font-size="8.8" text-anchor="end" fill="#2e2e2e">10</text>
<text transform="translate(425.3 293.4) scale(0.91 1)" font-size="8.8" text-anchor="end" fill="#2e2e2e">20</text>
<text transform="translate(425.3 280.4) scale(0.91 1)" font-size="8.8" text-anchor="end" fill="#2e2e2e">30</text>
<text transform="translate(425.3 267.4) scale(0.91 1)" font-size="8.8" text-anchor="end" fill="#2e2e2e">40</text>
<text transform="translate(425.3 255.4) scale(0.91 1)" font-size="8.8" text-anchor="end" fill="#2e2e2e">50</text>
<path d="M427.2 315.5h3.3M427.2 302.5h3.3M427.2 290.5h3.3M427.2 277.5h3.3M427.2 264.5h3.3M427.2 252.5h3.3M428.5 312.5h2M428.5 310.5h2M428.5 307.5h2M428.5 305.5h2M428.5 300.5h2M428.5 297.5h2M428.5 295.5h2M428.5 292.5h2M428.5 287.5h2M428.5 285.5h2M428.5 282.5h2M428.5 279.5h2M428.5 274.5h2M428.5 272.5h2M428.5 269.5h2M428.5 267.5h2M428.5 262.5h2M428.5 259.5h2M428.5 257.5h2M428.5 254.5h2" stroke="#231f20" stroke-width="0.9" fill="none"/>
<path d="M438.5 315.5v3M451.5 315.5v3M464.5 315.5v3M477.5 315.5v3M490.5 315.5v3M503.5 315.5v3" stroke="#231f20" stroke-width="1" fill="none"/>
<text transform="translate(440.25 320.5) rotate(-90) scale(0.87 1)" font-size="8.2" text-anchor="end" fill="#222222">Saline</text>
<text transform="translate(453.25 320.5) rotate(-90) scale(0.87 1)" font-size="8.2" text-anchor="end" fill="#222222">Saline</text>
<text transform="translate(466.25 320.5) rotate(-90) scale(0.93 1)" font-size="8.2" text-anchor="end" fill="#222222">Con EVs (+Scr miR)</text>
<text transform="translate(479.25 320.5) rotate(-90) scale(0.96 1)" font-size="8.2" text-anchor="end" fill="#222222">Con EVs (+Anti-miR10a)</text>
<text transform="translate(492.25 320.5) rotate(-90) scale(0.915 1)" font-size="8.2" text-anchor="end" fill="#222222">FVIIa EVs (+Scr miR)</text>
<text transform="translate(505.25 320.5) rotate(-90) scale(0.945 1)" font-size="8.2" text-anchor="end" fill="#222222">FVIIa EVs (+Anti-miR10a)</text>
<line x1="450.5" y1="411.95" x2="507.5" y2="411.95" stroke="#4a4a4a" stroke-width="1.3"/>
<text transform="translate(479 421.05) scale(0.9 1)" font-size="8" text-anchor="middle" fill="#222222">LPS</text>
<text transform="translate(409.4 286) rotate(-90) scale(0.81 1)" font-size="8.9" text-anchor="middle" fill="#222222">LY6-G<tspan font-size="5" dy="-3">+</tspan><tspan dy="3"> cells (%)</tspan></text>
<circle cx="436.25" cy="312.96" r="1.67" fill="#2fae4a"/>
<circle cx="438.25" cy="312.32" r="1.67" fill="#2fae4a"/>
<circle cx="440.25" cy="313.6" r="1.67" fill="#2fae4a"/>
<circle cx="437.25" cy="314.23" r="1.67" fill="#2fae4a"/>
<circle cx="439.25" cy="314.48" r="1.67" fill="#2fae4a"/>
<circle cx="438.25" cy="314.87" r="1.67" fill="#2fae4a"/>
<line x1="434.05" y1="313.98" x2="442.45" y2="313.98" stroke="#111" stroke-width="1"/>
<path d="M451.25 256.34L453.11 259.69L449.39 259.69Z" fill="#f7941d"/>
<path d="M449.25 271.58L451.11 274.93L447.39 274.93Z" fill="#f7941d"/>
<path d="M453.25 272.85L455.11 276.2L451.39 276.2Z" fill="#f7941d"/>
<path d="M451.25 274.12L453.11 277.47L449.39 277.47Z" fill="#f7941d"/>
<path d="M450.25 276.66L452.11 280.01L448.39 280.01Z" fill="#f7941d"/>
<path d="M451.25 285.55L453.11 288.9L449.39 288.9Z" fill="#f7941d"/>
<line x1="447.05" y1="275.75" x2="455.45" y2="275.75" stroke="#111" stroke-width="1"/>
<path d="M462.25 267.73L464.3 269.78L462.25 271.83L460.2 269.78Z" fill="#1b4f8f"/>
<path d="M466.25 268.37L468.3 270.42L466.25 272.46L464.2 270.42Z" fill="#1b4f8f"/>
<path d="M464.25 272.81L466.3 274.86L464.25 276.91L462.2 274.86Z" fill="#1b4f8f"/>
<path d="M462.25 275.35L464.3 277.4L462.25 279.45L460.2 277.4Z" fill="#1b4f8f"/>
<path d="M466.25 277.89L468.3 279.94L466.25 281.99L464.2 279.94Z" fill="#1b4f8f"/>
<path d="M464.25 282.97L466.3 285.02L464.25 287.07L462.2 285.02Z" fill="#1b4f8f"/>
<line x1="460.05" y1="277.02" x2="468.45" y2="277.02" stroke="#111" stroke-width="1"/>
<circle cx="476.25" cy="265.97" r="1.67" fill="#6e9fd0"/>
<circle cx="478.25" cy="268.51" r="1.67" fill="#6e9fd0"/>
<circle cx="475.25" cy="276.13" r="1.67" fill="#6e9fd0"/>
<circle cx="479.25" cy="277.4" r="1.67" fill="#6e9fd0"/>
<circle cx="478.25" cy="279.94" r="1.67" fill="#6e9fd0"/>
<circle cx="476.25" cy="282.48" r="1.67" fill="#6e9fd0"/>
<line x1="473.05" y1="277.53" x2="481.45" y2="277.53" stroke="#111" stroke-width="1"/>
<path d="M488.25 293.38L490.11 290.03L486.39 290.03Z" fill="#c8102e"/>
<path d="M492.25 293.38L494.11 290.03L490.39 290.03Z" fill="#c8102e"/>
<path d="M490.25 295.92L492.11 292.57L488.39 292.57Z" fill="#c8102e"/>
<path d="M489.25 298.46L491.11 295.11L487.39 295.11Z" fill="#c8102e"/>
<path d="M491.25 301L493.11 297.65L489.39 297.65Z" fill="#c8102e"/>
<path d="M490.25 303.54L492.11 300.19L488.39 300.19Z" fill="#c8102e"/>
<line x1="486.05" y1="296.7" x2="494.45" y2="296.7" stroke="#111" stroke-width="1"/>
<rect x="502.67" y="258.04" width="3.16" height="3.16" fill="#ea8a9e"/>
<rect x="500.67" y="260.58" width="3.16" height="3.16" fill="#ea8a9e"/>
<rect x="501.67" y="274.55" width="3.16" height="3.16" fill="#ea8a9e"/>
<rect x="499.67" y="275.82" width="3.16" height="3.16" fill="#ea8a9e"/>
<rect x="503.67" y="277.09" width="3.16" height="3.16" fill="#ea8a9e"/>
<rect x="501.67" y="278.36" width="3.16" height="3.16" fill="#ea8a9e"/>
<line x1="499.05" y1="276.51" x2="507.45" y2="276.51" stroke="#111" stroke-width="1"/>
<path d="M438.5 312.5V250.5H450.5V252.5" fill="none" stroke="#3d3d3d" stroke-width="1"/>
<circle cx="439.55" cy="246.4" r="1.08" fill="#262626"/><circle cx="442.95" cy="246.4" r="1.08" fill="#262626"/><circle cx="446.35" cy="246.4" r="1.08" fill="#262626"/><circle cx="449.75" cy="246.4" r="1.08" fill="#262626"/>
<path d="M452.5 253V250.5H463.5V256" fill="none" stroke="#3d3d3d" stroke-width="1"/>
<text transform="translate(458.3 248.5) scale(0.88 1)" font-size="8.2" text-anchor="middle" fill="#333">ns</text>
<path d="M464.5 265V259.5H477.5V262" fill="none" stroke="#3d3d3d" stroke-width="1"/>
<text transform="translate(470.8 257.5) scale(0.88 1)" font-size="8.2" text-anchor="middle" fill="#333">ns</text>
<path d="M452.5 244.2V240.5H490.5V286" fill="none" stroke="#3d3d3d" stroke-width="1"/>
<circle cx="466.45" cy="236.4" r="1.08" fill="#262626"/><circle cx="469.85" cy="236.4" r="1.08" fill="#262626"/><circle cx="473.25" cy="236.4" r="1.08" fill="#262626"/><circle cx="476.65" cy="236.4" r="1.08" fill="#262626"/>
<path d="M490.5 238.5V236.5H503.5V254" fill="none" stroke="#3d3d3d" stroke-width="1"/>
<circle cx="491.8" cy="232.4" r="1.08" fill="#262626"/><circle cx="495.2" cy="232.4" r="1.08" fill="#262626"/><circle cx="498.6" cy="232.4" r="1.08" fill="#262626"/><circle cx="502" cy="232.4" r="1.08" fill="#262626"/>
<text transform="translate(7.8 444.5) scale(1.06 1)" font-size="10.5" font-weight="bold" fill="#111" stroke="#111" stroke-width="0.35">H</text>
<line x1="49.5" y1="451.5" x2="49.5" y2="514" stroke="#231f20" stroke-width="1"/>
<line x1="46.2" y1="513.5" x2="124.5" y2="513.5" stroke="#231f20" stroke-width="1"/>
<text transform="translate(44.3 516.4) scale(0.91 1)" font-size="8.8" text-anchor="end" fill="#2e2e2e">0</text>
<text transform="translate(44.3 496.4) scale(0.91 1)" font-size="8.8" text-anchor="end" fill="#2e2e2e">10</text>
<text transform="translate(44.3 475.4) scale(0.91 1)" font-size="8.8" text-anchor="end" fill="#2e2e2e">20</text>
<text transform="translate(44.3 455.4) scale(0.91 1)" font-size="8.8" text-anchor="end" fill="#2e2e2e">30</text>
<path d="M46.2 513.5h3.3M46.2 493.5h3.3M46.2 472.5h3.3M46.2 452.5h3.3M47.5 509.5h2M47.5 505.5h2M47.5 501.5h2M47.5 497.5h2M47.5 489.5h2M47.5 484.5h2M47.5 480.5h2M47.5 476.5h2M47.5 468.5h2M47.5 464.5h2M47.5 460.5h2M47.5 456.5h2" stroke="#231f20" stroke-width="0.9" fill="none"/>
<path d="M57.5 513.5v3M69.5 513.5v3M80.5 513.5v3M92.5 513.5v3M104.5 513.5v3M115.5 513.5v3" stroke="#231f20" stroke-width="1" fill="none"/>
<text transform="translate(59.5 518.75) rotate(-90) scale(0.87 1)" font-size="8.2" text-anchor="end" fill="#222222">Saline</text>
<text transform="translate(71.15 518.75) rotate(-90) scale(0.87 1)" font-size="8.2" text-anchor="end" fill="#222222">Saline</text>
<text transform="translate(82.8 518.75) rotate(-90) scale(0.93 1)" font-size="8.2" text-anchor="end" fill="#222222">Con EVs (+Scr miR)</text>
<text transform="translate(94.45 518.75) rotate(-90) scale(0.96 1)" font-size="8.2" text-anchor="end" fill="#222222">Con EVs (+Anti-miR10a)</text>
<text transform="translate(106.1 518.75) rotate(-90) scale(0.915 1)" font-size="8.2" text-anchor="end" fill="#222222">FVIIa EVs (+Scr miR)</text>
<text transform="translate(117.75 518.75) rotate(-90) scale(0.945 1)" font-size="8.2" text-anchor="end" fill="#222222">FVIIa EVs (+Anti-miR10a)</text>
<line x1="67.5" y1="609.2" x2="122" y2="609.2" stroke="#4a4a4a" stroke-width="1.3"/>
<text transform="translate(94.75 618.3) scale(0.9 1)" font-size="8" text-anchor="middle" fill="#222222">LPS</text>
<text transform="translate(29.4 483.3) rotate(-90) scale(0.82 1)" font-size="8.9" text-anchor="middle" fill="#222222">TNF-α (RE)</text>
<circle cx="55.5" cy="511.69" r="1.67" fill="#2fae4a"/>
<circle cx="57.5" cy="511.28" r="1.67" fill="#2fae4a"/>
<circle cx="59.5" cy="512.1" r="1.67" fill="#2fae4a"/>
<circle cx="56.5" cy="512.72" r="1.67" fill="#2fae4a"/>
<circle cx="58.5" cy="512.72" r="1.67" fill="#2fae4a"/>
<line x1="53.3" y1="512.1" x2="61.7" y2="512.1" stroke="#111" stroke-width="1"/>
<path d="M67.15 466.87L69.01 470.22L65.29 470.22Z" fill="#f7941d"/>
<path d="M71.15 467.49L73.01 470.84L69.29 470.84Z" fill="#f7941d"/>
<path d="M69.15 467.9L71.01 471.25L67.29 471.25Z" fill="#f7941d"/>
<path d="M68.15 468.52L70.01 471.86L66.29 471.86Z" fill="#f7941d"/>
<path d="M70.15 468.93L72.01 472.28L68.29 472.28Z" fill="#f7941d"/>
<line x1="64.95" y1="469.91" x2="73.35" y2="469.91" stroke="#111" stroke-width="1"/>
<path d="M80.8 458.19L82.85 460.23L80.8 462.28L78.75 460.23Z" fill="#1b4f8f"/>
<path d="M78.8 463.33L80.85 465.38L78.8 467.43L76.75 465.38Z" fill="#1b4f8f"/>
<path d="M82.8 464.36L84.85 466.41L82.8 468.45L80.75 466.41Z" fill="#1b4f8f"/>
<path d="M80.8 465.39L82.85 467.44L80.8 469.48L78.75 467.44Z" fill="#1b4f8f"/>
<path d="M78.8 466.42L80.85 468.47L78.8 470.51L76.75 468.47Z" fill="#1b4f8f"/>
<path d="M82.8 468.48L84.85 470.52L82.8 472.57L80.75 470.52Z" fill="#1b4f8f"/>
<path d="M81.8 469.51L83.85 471.55L81.8 473.6L79.75 471.55Z" fill="#1b4f8f"/>
<line x1="76.6" y1="467.03" x2="85" y2="467.03" stroke="#111" stroke-width="1"/>
<circle cx="92.45" cy="465.38" r="1.67" fill="#6e9fd0"/>
<circle cx="90.45" cy="466.41" r="1.67" fill="#6e9fd0"/>
<circle cx="94.45" cy="467.03" r="1.67" fill="#6e9fd0"/>
<circle cx="91.45" cy="468.47" r="1.67" fill="#6e9fd0"/>
<circle cx="93.45" cy="469.5" r="1.67" fill="#6e9fd0"/>
<circle cx="92.45" cy="472.58" r="1.67" fill="#6e9fd0"/>
<line x1="88.25" y1="467.03" x2="96.65" y2="467.03" stroke="#111" stroke-width="1"/>
<path d="M102.1 512.05L103.96 508.71L100.24 508.71Z" fill="#c8102e"/>
<path d="M104.1 511.64L105.96 508.29L102.24 508.29Z" fill="#c8102e"/>
<path d="M106.1 512.47L107.96 509.12L104.24 509.12Z" fill="#c8102e"/>
<path d="M104.1 513.08L105.96 509.73L102.24 509.73Z" fill="#c8102e"/>
<line x1="99.9" y1="510.46" x2="108.3" y2="510.46" stroke="#111" stroke-width="1"/>
<rect x="114.17" y="463.8" width="3.16" height="3.16" fill="#ea8a9e"/>
<rect x="112.17" y="465.24" width="3.16" height="3.16" fill="#ea8a9e"/>
<rect x="116.17" y="466.27" width="3.16" height="3.16" fill="#ea8a9e"/>
<rect x="113.17" y="467.91" width="3.16" height="3.16" fill="#ea8a9e"/>
<rect x="115.17" y="468.94" width="3.16" height="3.16" fill="#ea8a9e"/>
<rect x="114.17" y="469.56" width="3.16" height="3.16" fill="#ea8a9e"/>
<line x1="111.55" y1="468.47" x2="119.95" y2="468.47" stroke="#111" stroke-width="1"/>
<path d="M57.5 511V461.5H69.5V463" fill="none" stroke="#3d3d3d" stroke-width="1"/>
<circle cx="58.25" cy="457.4" r="1.08" fill="#262626"/><circle cx="61.65" cy="457.4" r="1.08" fill="#262626"/><circle cx="65.05" cy="457.4" r="1.08" fill="#262626"/><circle cx="68.45" cy="457.4" r="1.08" fill="#262626"/>
<path d="M70.5 461.6V454.5H81.5V456" fill="none" stroke="#3d3d3d" stroke-width="1"/>
<text transform="translate(75.6 452.5) scale(0.88 1)" font-size="8.2" text-anchor="middle" fill="#333">ns</text>
<path d="M82.5 455V453.5H92.5V456.6" fill="none" stroke="#3d3d3d" stroke-width="1"/>
<text transform="translate(87.9 451.5) scale(0.88 1)" font-size="8.2" text-anchor="middle" fill="#333">ns</text>
<path d="M93.5 463V461.5H105.5V509" fill="none" stroke="#3d3d3d" stroke-width="1"/>
<circle cx="94.2" cy="457.4" r="1.08" fill="#262626"/><circle cx="97.6" cy="457.4" r="1.08" fill="#262626"/><circle cx="101" cy="457.4" r="1.08" fill="#262626"/><circle cx="104.4" cy="457.4" r="1.08" fill="#262626"/>
<path d="M104.5 455.9V453.5H117.5V461.6" fill="none" stroke="#3d3d3d" stroke-width="1"/>
<circle cx="105.85" cy="449.4" r="1.08" fill="#262626"/><circle cx="109.25" cy="449.4" r="1.08" fill="#262626"/><circle cx="112.65" cy="449.4" r="1.08" fill="#262626"/><circle cx="116.05" cy="449.4" r="1.08" fill="#262626"/>
<text transform="translate(140.5 444.5) scale(1.06 1)" font-size="10.5" font-weight="bold" fill="#111" stroke="#111" stroke-width="0.35">I</text>
<line x1="173.5" y1="449.7" x2="173.5" y2="514" stroke="#231f20" stroke-width="1"/>
<line x1="170.2" y1="513.5" x2="242" y2="513.5" stroke="#231f20" stroke-width="1"/>
<text transform="translate(168.3 516.4) scale(0.91 1)" font-size="8.8" text-anchor="end" fill="#2e2e2e">0</text>
<text transform="translate(168.3 500.4) scale(0.91 1)" font-size="8.8" text-anchor="end" fill="#2e2e2e">20</text>
<text transform="translate(168.3 484.4) scale(0.91 1)" font-size="8.8" text-anchor="end" fill="#2e2e2e">40</text>
<text transform="translate(168.3 469.4) scale(0.91 1)" font-size="8.8" text-anchor="end" fill="#2e2e2e">60</text>
<text transform="translate(168.3 453.4) scale(0.91 1)" font-size="8.8" text-anchor="end" fill="#2e2e2e">80</text>
<path d="M170.2 513.5h3.3M170.2 497.5h3.3M170.2 481.5h3.3M170.2 466.5h3.3M170.2 450.5h3.3M171.5 510.5h2M171.5 507.5h2M171.5 504.5h2M171.5 500.5h2M171.5 494.5h2M171.5 491.5h2M171.5 488.5h2M171.5 485.5h2M171.5 478.5h2M171.5 475.5h2M171.5 472.5h2M171.5 469.5h2M171.5 462.5h2M171.5 459.5h2M171.5 456.5h2M171.5 453.5h2" stroke="#231f20" stroke-width="0.9" fill="none"/>
<path d="M180.5 513.5v3M191.5 513.5v3M202.5 513.5v3M213.5 513.5v3M224.5 513.5v3M235.5 513.5v3" stroke="#231f20" stroke-width="1" fill="none"/>
<text transform="translate(182 518.6) rotate(-90) scale(0.87 1)" font-size="8.2" text-anchor="end" fill="#222222">Saline</text>
<text transform="translate(193 518.6) rotate(-90) scale(0.87 1)" font-size="8.2" text-anchor="end" fill="#222222">Saline</text>
<text transform="translate(204 518.6) rotate(-90) scale(0.93 1)" font-size="8.2" text-anchor="end" fill="#222222">Con EVs (+Scr miR)</text>
<text transform="translate(215 518.6) rotate(-90) scale(0.96 1)" font-size="8.2" text-anchor="end" fill="#222222">Con EVs (+Anti-miR10a)</text>
<text transform="translate(226 518.6) rotate(-90) scale(0.915 1)" font-size="8.2" text-anchor="end" fill="#222222">FVIIa EVs (+Scr miR)</text>
<text transform="translate(237 518.6) rotate(-90) scale(0.945 1)" font-size="8.2" text-anchor="end" fill="#222222">FVIIa EVs (+Anti-miR10a)</text>
<line x1="189.25" y1="609.45" x2="238" y2="609.45" stroke="#4a4a4a" stroke-width="1.3"/>
<text transform="translate(213.62 618.55) scale(0.9 1)" font-size="8" text-anchor="middle" fill="#222222">LPS</text>
<text transform="translate(151.9 481.9) rotate(-90) scale(0.77 1)" font-size="8.9" text-anchor="middle" fill="#222222">IL-6 (RE)</text>
<circle cx="178" cy="512.81" r="1.67" fill="#2fae4a"/>
<circle cx="180" cy="512.41" r="1.67" fill="#2fae4a"/>
<circle cx="182" cy="512.81" r="1.67" fill="#2fae4a"/>
<circle cx="179" cy="513.2" r="1.67" fill="#2fae4a"/>
<circle cx="181" cy="513.2" r="1.67" fill="#2fae4a"/>
<line x1="175.8" y1="513.12" x2="184.2" y2="513.12" stroke="#111" stroke-width="1"/>
<path d="M191 468L192.86 471.35L189.14 471.35Z" fill="#f7941d"/>
<path d="M189 470.38L190.86 473.73L187.14 473.73Z" fill="#f7941d"/>
<path d="M193 471.17L194.86 474.52L191.14 474.52Z" fill="#f7941d"/>
<path d="M191 472.76L192.86 476.11L189.14 476.11Z" fill="#f7941d"/>
<path d="M190 478.31L191.86 481.65L188.14 481.65Z" fill="#f7941d"/>
<path d="M192 483.06L193.86 486.41L190.14 486.41Z" fill="#f7941d"/>
<line x1="186.8" y1="473.5" x2="195.2" y2="473.5" stroke="#111" stroke-width="1"/>
<path d="M202 463.21L204.05 465.26L202 467.3L199.95 465.26Z" fill="#1b4f8f"/>
<path d="M200 468.76L202.05 470.81L200 472.85L197.95 470.81Z" fill="#1b4f8f"/>
<path d="M204 470.34L206.05 472.39L204 474.44L201.95 472.39Z" fill="#1b4f8f"/>
<path d="M201 471.93L203.05 473.98L201 476.02L198.95 473.98Z" fill="#1b4f8f"/>
<path d="M203 474.31L205.05 476.35L203 478.4L200.95 476.35Z" fill="#1b4f8f"/>
<path d="M202 475.1L204.05 477.14L202 479.19L199.95 477.14Z" fill="#1b4f8f"/>
<path d="M202 483.02L204.05 485.07L202 487.12L199.95 485.07Z" fill="#1b4f8f"/>
<line x1="197.8" y1="473.5" x2="206.2" y2="473.5" stroke="#111" stroke-width="1"/>
<circle cx="214" cy="468.43" r="1.67" fill="#6e9fd0"/>
<circle cx="212" cy="470.01" r="1.67" fill="#6e9fd0"/>
<circle cx="214" cy="472.39" r="1.67" fill="#6e9fd0"/>
<circle cx="212" cy="474.77" r="1.67" fill="#6e9fd0"/>
<circle cx="213" cy="479.52" r="1.67" fill="#6e9fd0"/>
<circle cx="213" cy="484.28" r="1.67" fill="#6e9fd0"/>
<circle cx="213" cy="488.24" r="1.67" fill="#6e9fd0"/>
<line x1="208.8" y1="473.98" x2="217.2" y2="473.98" stroke="#111" stroke-width="1"/>
<path d="M222 514.02L223.86 510.68L220.14 510.68Z" fill="#c8102e"/>
<path d="M224 513.63L225.86 510.28L222.14 510.28Z" fill="#c8102e"/>
<path d="M226 514.42L227.86 511.07L224.14 511.07Z" fill="#c8102e"/>
<path d="M224 514.82L225.86 511.47L222.14 511.47Z" fill="#c8102e"/>
<line x1="219.8" y1="512.41" x2="228.2" y2="512.41" stroke="#111" stroke-width="1"/>
<rect x="235.42" y="462.88" width="3.16" height="3.16" fill="#ea8a9e"/>
<rect x="231.42" y="465.26" width="3.16" height="3.16" fill="#ea8a9e"/>
<rect x="233.42" y="468.43" width="3.16" height="3.16" fill="#ea8a9e"/>
<rect x="235.42" y="472.39" width="3.16" height="3.16" fill="#ea8a9e"/>
<rect x="231.42" y="476.36" width="3.16" height="3.16" fill="#ea8a9e"/>
<rect x="233.42" y="480.32" width="3.16" height="3.16" fill="#ea8a9e"/>
<rect x="233.42" y="484.28" width="3.16" height="3.16" fill="#ea8a9e"/>
<line x1="230.8" y1="473.02" x2="239.2" y2="473.02" stroke="#111" stroke-width="1"/>
<path d="M180.5 511V464.5H190.5V466" fill="none" stroke="#3d3d3d" stroke-width="1"/>
<circle cx="179.05" cy="460.4" r="1.08" fill="#262626"/><circle cx="182.45" cy="460.4" r="1.08" fill="#262626"/><circle cx="185.85" cy="460.4" r="1.08" fill="#262626"/><circle cx="189.25" cy="460.4" r="1.08" fill="#262626"/>
<path d="M190.5 460V457.5H202.5V459.5" fill="none" stroke="#3d3d3d" stroke-width="1"/>
<text transform="translate(196.75 455.5) scale(0.88 1)" font-size="8.2" text-anchor="middle" fill="#333">ns</text>
<path d="M204.5 462V460.5H213.5V465" fill="none" stroke="#3d3d3d" stroke-width="1"/>
<text transform="translate(208.85 458.5) scale(0.88 1)" font-size="8.2" text-anchor="middle" fill="#333">ns</text>
<path d="M190.5 454.9V446.5H223.5V511" fill="none" stroke="#3d3d3d" stroke-width="1"/>
<circle cx="202" cy="442.4" r="1.08" fill="#262626"/><circle cx="205.4" cy="442.4" r="1.08" fill="#262626"/><circle cx="208.8" cy="442.4" r="1.08" fill="#262626"/><circle cx="212.2" cy="442.4" r="1.08" fill="#262626"/>
<path d="M223.5 443.8V442.5H234.5V458.2" fill="none" stroke="#3d3d3d" stroke-width="1"/>
<circle cx="223.85" cy="438.4" r="1.08" fill="#262626"/><circle cx="227.25" cy="438.4" r="1.08" fill="#262626"/><circle cx="230.65" cy="438.4" r="1.08" fill="#262626"/><circle cx="234.05" cy="438.4" r="1.08" fill="#262626"/>
<text transform="translate(265 444.5) scale(1.06 1)" font-size="10.5" font-weight="bold" fill="#111" stroke="#111" stroke-width="0.35">J</text>
<line x1="297.5" y1="450.1" x2="297.5" y2="473.8" stroke="#231f20" stroke-width="1"/>
<line x1="297.5" y1="478.3" x2="297.5" y2="514.1" stroke="#231f20" stroke-width="1"/>
<line x1="297" y1="473.3" x2="299.3" y2="473.3" stroke="#231f20" stroke-width="1"/>
<line x1="297" y1="478.8" x2="299.3" y2="478.8" stroke="#231f20" stroke-width="1"/>
<line x1="294.2" y1="513.5" x2="374.5" y2="513.5" stroke="#231f20" stroke-width="1"/>
<text transform="translate(292.3 516.4) scale(0.91 1)" font-size="8.8" text-anchor="end" fill="#2e2e2e">0</text>
<text transform="translate(292.3 499.4) scale(0.91 1)" font-size="8.8" text-anchor="end" fill="#2e2e2e">10</text>
<text transform="translate(292.3 481.4) scale(0.91 1)" font-size="8.8" text-anchor="end" fill="#2e2e2e">20</text>
<text transform="translate(292.3 476.4) scale(0.91 1)" font-size="8.8" text-anchor="end" fill="#2e2e2e">100</text>
<text transform="translate(292.3 464.4) scale(0.91 1)" font-size="8.8" text-anchor="end" fill="#2e2e2e">150</text>
<text transform="translate(292.3 453.4) scale(0.91 1)" font-size="8.8" text-anchor="end" fill="#2e2e2e">200</text>
<path d="M294.2 513.5h3.3M294.2 496.5h3.3M294.2 478.5h3.3M294.2 473.5h3.3M294.2 461.5h3.3M294.2 450.5h3.3M295.5 510.5h2M295.5 506.5h2M295.5 503.5h2M295.5 499.5h2M295.5 492.5h2M295.5 489.5h2M295.5 485.5h2M295.5 482.5h2M295.5 470.5h2M295.5 468.5h2M295.5 466.5h2M295.5 464.5h2M295.5 459.5h2M295.5 457.5h2M295.5 455.5h2M295.5 452.5h2" stroke="#231f20" stroke-width="0.9" fill="none"/>
<path d="M305.5 513.5v3M317.5 513.5v3M329.5 513.5v3M342.5 513.5v3M354.5 513.5v3M366.5 513.5v3" stroke="#231f20" stroke-width="1" fill="none"/>
<text transform="translate(307.5 518.75) rotate(-90) scale(0.87 1)" font-size="8.2" text-anchor="end" fill="#222222">Saline</text>
<text transform="translate(319.7 518.75) rotate(-90) scale(0.87 1)" font-size="8.2" text-anchor="end" fill="#222222">Saline</text>
<text transform="translate(331.9 518.75) rotate(-90) scale(0.93 1)" font-size="8.2" text-anchor="end" fill="#222222">Con EVs (+Scr miR)</text>
<text transform="translate(344.1 518.75) rotate(-90) scale(0.96 1)" font-size="8.2" text-anchor="end" fill="#222222">Con EVs (+Anti-miR10a)</text>
<text transform="translate(356.3 518.75) rotate(-90) scale(0.915 1)" font-size="8.2" text-anchor="end" fill="#222222">FVIIa EVs (+Scr miR)</text>
<text transform="translate(368.5 518.75) rotate(-90) scale(0.945 1)" font-size="8.2" text-anchor="end" fill="#222222">FVIIa EVs (+Anti-miR10a)</text>
<line x1="316.25" y1="609.45" x2="371.25" y2="609.45" stroke="#4a4a4a" stroke-width="1.3"/>
<text transform="translate(343.75 618.55) scale(0.9 1)" font-size="8" text-anchor="middle" fill="#222222">LPS</text>
<text transform="translate(273.6 482.1) rotate(-90) scale(0.8 1)" font-size="8.9" text-anchor="middle" fill="#222222">IL-1β (RE)</text>
<circle cx="303.5" cy="512" r="1.67" fill="#2fae4a"/>
<circle cx="305.5" cy="511.48" r="1.67" fill="#2fae4a"/>
<circle cx="307.5" cy="512" r="1.67" fill="#2fae4a"/>
<circle cx="304.5" cy="512.7" r="1.67" fill="#2fae4a"/>
<circle cx="306.5" cy="512.7" r="1.67" fill="#2fae4a"/>
<line x1="301.3" y1="512.17" x2="309.7" y2="512.17" stroke="#111" stroke-width="1"/>
<path d="M315.7 464.69L317.56 468.04L313.84 468.04Z" fill="#f7941d"/>
<path d="M319.7 465.37L321.56 468.71L317.84 468.71Z" fill="#f7941d"/>
<path d="M317.7 466.27L319.56 469.61L315.84 469.61Z" fill="#f7941d"/>
<path d="M316.7 467.17L318.56 470.51L314.84 470.51Z" fill="#f7941d"/>
<path d="M318.7 468.07L320.56 471.41L316.84 471.41Z" fill="#f7941d"/>
<line x1="313.5" y1="468.5" x2="321.9" y2="468.5" stroke="#111" stroke-width="1"/>
<path d="M327.9 465.55L329.95 467.6L327.9 469.65L325.85 467.6Z" fill="#1b4f8f"/>
<path d="M331.9 466L333.95 468.05L331.9 470.1L329.85 468.05Z" fill="#1b4f8f"/>
<path d="M329.9 466.45L331.95 468.5L329.9 470.55L327.85 468.5Z" fill="#1b4f8f"/>
<path d="M328.9 466.9L330.95 468.95L328.9 471L326.85 468.95Z" fill="#1b4f8f"/>
<path d="M330.9 467.35L332.95 469.4L330.9 471.45L328.85 469.4Z" fill="#1b4f8f"/>
<line x1="325.7" y1="468.5" x2="334.1" y2="468.5" stroke="#111" stroke-width="1"/>
<circle cx="342.1" cy="465.35" r="1.67" fill="#6e9fd0"/>
<circle cx="340.1" cy="466.02" r="1.67" fill="#6e9fd0"/>
<circle cx="344.1" cy="466.7" r="1.67" fill="#6e9fd0"/>
<circle cx="341.1" cy="467.38" r="1.67" fill="#6e9fd0"/>
<circle cx="343.1" cy="468.05" r="1.67" fill="#6e9fd0"/>
<line x1="337.9" y1="466.93" x2="346.3" y2="466.93" stroke="#111" stroke-width="1"/>
<path d="M354.3 493.36L356.16 490.01L352.44 490.01Z" fill="#c8102e"/>
<path d="M352.3 494.76L354.16 491.41L350.44 491.41Z" fill="#c8102e"/>
<path d="M356.3 495.63L358.16 492.29L354.44 492.29Z" fill="#c8102e"/>
<path d="M354.3 496.86L356.16 493.51L352.44 493.51Z" fill="#c8102e"/>
<line x1="350.1" y1="493.27" x2="358.5" y2="493.27" stroke="#111" stroke-width="1"/>
<rect x="364.92" y="460.62" width="3.16" height="3.16" fill="#ea8a9e"/>
<rect x="363.92" y="463.54" width="3.16" height="3.16" fill="#ea8a9e"/>
<rect x="365.92" y="465.34" width="3.16" height="3.16" fill="#ea8a9e"/>
<rect x="364.92" y="468.04" width="3.16" height="3.16" fill="#ea8a9e"/>
<rect x="364.92" y="471.19" width="3.16" height="3.16" fill="#ea8a9e"/>
<line x1="362.3" y1="466.93" x2="370.7" y2="466.93" stroke="#111" stroke-width="1"/>
<path d="M305.5 507.7V460.5H316.5V462.5" fill="none" stroke="#3d3d3d" stroke-width="1"/>
<circle cx="305.9" cy="456.4" r="1.08" fill="#262626"/><circle cx="309.3" cy="456.4" r="1.08" fill="#262626"/><circle cx="312.7" cy="456.4" r="1.08" fill="#262626"/><circle cx="316.1" cy="456.4" r="1.08" fill="#262626"/>
<path d="M317.5 463V461.5H329.5V463" fill="none" stroke="#3d3d3d" stroke-width="1"/>
<text transform="translate(323.5 459.5) scale(0.88 1)" font-size="8.2" text-anchor="middle" fill="#333">ns</text>
<path d="M331.5 463.4V459.5H342.5V461.5" fill="none" stroke="#3d3d3d" stroke-width="1"/>
<circle cx="334.95" cy="455.4" r="1.08" fill="#262626"/><circle cx="338.35" cy="455.4" r="1.08" fill="#262626"/>
<path d="M317.5 453V450.5H354.5V487.5" fill="none" stroke="#3d3d3d" stroke-width="1"/>
<circle cx="330.6" cy="446.4" r="1.08" fill="#262626"/><circle cx="334" cy="446.4" r="1.08" fill="#262626"/><circle cx="337.4" cy="446.4" r="1.08" fill="#262626"/><circle cx="340.8" cy="446.4" r="1.08" fill="#262626"/>
<path d="M353.5 448.8V447.5H366.5V458.75" fill="none" stroke="#3d3d3d" stroke-width="1"/>
<circle cx="355.05" cy="443.4" r="1.08" fill="#262626"/><circle cx="358.45" cy="443.4" r="1.08" fill="#262626"/><circle cx="361.85" cy="443.4" r="1.08" fill="#262626"/><circle cx="365.25" cy="443.4" r="1.08" fill="#262626"/>
<text transform="translate(140.5 235.6) scale(1.06 1)" font-size="10.5" font-weight="bold" fill="#111" stroke="#111" stroke-width="0.35">F</text>
<g fill="none" stroke-linecap="round" stroke-linejoin="round">
<rect x="152.5" y="244" width="68" height="71.5" fill="#04050b"/>
<path d="M211.6 286.7l-0.7 1.3M162.4 294.1l-1 1 -0.7 0.9 -1 0.5M216.5 305.5l-1.3 0.5M156.4 308.8h.1M160.4 295.8l-1.3 -0.7M189.7 301.8l-0.9 0.9 -1.3 1M174.7 299.9l0.2 -1.3M163.5 285.5h.1M177 282.4h.1M160.6 275.6h.1M195.1 264.4l0.1 -1.1" stroke="#3040aa" stroke-width="1.5"/>
<path d="M202.3 310.4l1.3 -0.2 0.7 -0.8 1.2 -0M196.6 287.8l-0.2 1M218.2 290.7l-1.3 -1.1M211 274h.1M193.7 250.6l1.2 0.5 1 1M167.9 305.3l1.4 0.9 1.5 0.8M215.4 295.2l1.1 0.1M204.4 268.7l1.5 -0.3M191.1 257.1l1 1.2 0.5 1.5M184.5 273.6l0.1 -1.3 1.3 -0.9M197.6 283.1l-0.8 -1.1M192.9 294.7l0.6 -1.3M165.6 283.2l0.2 1.5M170.7 295.4l0.1 1.4M161.6 298.8l-0.7 -1.1M187.3 292.2l-0.1 -1 -0.7 -1.1M202 272.7h.1M210.9 298.5l1.5 0.5" stroke="#3040aa" stroke-width="1.8"/>
<path d="M212.4 272h.1M157.8 282.4l1 -0.8 0.3 -1.3M193.4 251.6h.1M170.1 307.9h.1M192.9 297.8l1.3 -1M201.3 293.2l0.5 1.1 -0.4 1.2M177.6 270.3l-1.2 0.3M218.6 269.3h.1M161.1 310.3l-0.8 -0.9 -1.5 -0.1M188.2 263.4l1.1 0.4M187.6 269.7l-0.2 1.6M170.1 294.7l-1.4 0.7M212.4 266.5l1.4 0.7 0.2 1.3 1.1 0.6M189.8 290.7l-1.2 1.1M158.7 290.1l-1.4 -0.4" stroke="#3040aa" stroke-width="2.0"/>
<path d="M193.2 285.1l1.4 0.7 1.2 0.2 0.9 -0.6M213.2 279.1h.1M198.3 259.1l1 -0.7 0.8 -0.8 1.4 -0.8M160.7 282.2h.1M170.4 294.6h.1M176.3 293.5l-1.3 -0.8M184.1 290.3h.1M180.8 281.8l0.4 1.6M184 298.1l-1.3 0.5 -0.5 1.4M179.2 307.4l1.5 -0.7 1.1 -0.7M205.3 288.4l-0.6 1.4M213.1 292.8l-1.1 -0.1M167.8 254.3l0.7 -0.7M190.2 314.3h.1M171.6 277.7l-0.5 1 0.3 1.4M155.9 277.2h.1M193.9 280.7l0.2 1M175.2 262.8l-0.6 1.1 -1 0.4 -1.2 -0.6M181.2 264.5l1 0" stroke="#3445b2" stroke-width="1.5"/>
<path d="M218.8 245l0.7 0.7M189.9 280.8l1.1 0.3M186.8 313.3h.1M197.3 297h.1M218.3 278.6l-1.3 0.9 -0.2 1.1 -1 1M188.1 294.4l-1.1 -0.3 -1.4 0.5M206.3 266.7l-1 0.9M213.2 276.3l-1.2 0.9M172.3 262.4l0.2 1.1M192.8 276.6l-1.6 -0.3M203.9 296l0.1 1.1M184 272.3h.1M178.8 267.8l-0.9 0.7M161.8 271.2l-0.9 1M210.7 275.7l-0.7 -1.1M202.4 259.7l-1 0.3M189.8 307.9l1.1 0.5 0.7 1.5" stroke="#3445b2" stroke-width="1.8"/>
<path d="M185.4 284.9l0.8 0.8M213.1 248.4l1.3 -0.7M194.6 252.1h.1M207 254.1h.1M188.3 306.8l1.1 -0.4M161.5 275.9l-0.9 -1.1 -0.7 -0.7 0.2 -1.6M185 274l1.6 0.3 1.5 0.1M213.3 287.8l-0.6 -1.2M210.9 294.6l-0.5 -1 0.2 -1.1 0.6 -1M205.7 270.9l1.6 0.2M201.2 304.5l0.9 1M185.7 258l1.2 0.6M169.3 279.3l-1.1 0.1 -0.9 1.3M173.9 300.6l-0.7 1.1 0 1.4M188.2 245.7h.1M165.5 272l-1.7 0.1 -1.2 0.8 -1.5 -0.2M161.2 310.4l0.2 1" stroke="#3445b2" stroke-width="2.0"/>
<path d="M217.2 290.4h.1M194.9 269.2l-1.7 -0.2M215.6 282.8h.1M177.1 302.1l-0.4 -1.4 -0.8 -0.7M191.9 266.2l-1.3 0.9M163 299l0.7 -1.5M162.2 291.4h.1M193.1 254.4h.1M181.2 288.9l0.5 -1.4M171.3 284.5l-0.6 1.2 -0.2 1.2" stroke="#3c4ec4" stroke-width="1.5"/>
<path d="M219.2 303.4l-0.4 0.9M217 246.5l-1.5 0.7M159 297.1l-1.6 0.4 -0.9 1.2 -1.1 0.8M192 267h.1M218.2 312.9l-0.3 -1.5 -1.2 -0.7M175.3 282.5l-1.2 0.8M175.8 312.3h.1M194.9 310.2l1 -0.2 0.9 -0.9M201.3 257.2h.1M207 270.3l0.2 1.4M186.9 310.4l-0.3 -1" stroke="#3c4ec4" stroke-width="1.8"/>
<path d="M184.2 280.3l0.3 1.5 1 0.7 1.6 -0.1M190.7 289.5l0.8 0.7M181.2 299.1l1.1 0.5M211.3 250.5l-0.7 -1.1 -0 -1 -0.6 -1.5M192.5 257.3l-1.1 -0.3M157.4 266.4l0.2 -1.5M206.6 260.4h.1M210.2 307.5l-0.7 -0.9M205.2 280.9l1.1 -1.1M188.2 251.4h.1M194.9 257.6l-1.3 0.7 -0.9 0.8M197.6 257.9l-1.5 0.2 -0.9 0.6M212.1 304.5h.1M183.4 291.2l-0.8 1.1" stroke="#3c4ec4" stroke-width="2.0"/>
<path d="M167.6 309.4l-0.8 1.1 -0.1 1.5M156.6 264.6h.1M162 299.2l1.1 0.4M190.5 283.9l1 -0.4 1.2 0.2M157.7 273.1l-1.2 0.1M187.4 253.8h.1M203.2 266.5l0.9 -0.8M215.5 279.7l0.1 -1.3M188.4 276.4h.1" stroke="#4658cc" stroke-width="1.5"/>
<path d="M208.3 271.6l-1.1 -1.1 -1.3 -0.5 -0.9 -0.8M199 297.7l-1.5 -0.6M187.5 279.6l-0 1 -0.4 1.5M196.6 258.6h.1M163 296.8l0.1 1.6M153.6 302.1h.1M208 259.5l-1 -1.4M218.3 299.9h.1M157.6 307.2l-1.1 0.3 -1.1 0.8M155.4 299.9l1.4 0.2 1.1 -1.2 -0 -1M200.7 263.7l1.1 0.4 0.7 0.9M209.9 271.5h.1M193.9 249.4l-1.5 0.7 -0.3 1 -0.4 1.2M167 306.2h.1" stroke="#4658cc" stroke-width="1.8"/>
<path d="M157.4 310.7l-1.2 0.1M210.3 269.8l-1.1 0.7M170.5 301.3l-1.3 -0.9 -0.4 -1M173.7 275.7l-0.4 1.5 -0.5 1M177.5 256.5l-1.1 1.3 -1.5 0.1M160.5 308.2l0.2 -1.7M216 309.2h.1M199 300.9l-1.4 0.1 -1 0.6M180.5 307.5l1.2 -0.5M157.8 305.5l0.1 1.4 -0.6 1" stroke="#4658cc" stroke-width="2.0"/>
<path d="M156.4 273.2l0.2 -0.6" stroke="#2cc2e2" stroke-width="1.7"/>
<path d="M187.4 271.3l0.1 -0.4" stroke="#30d4e0" stroke-width="1.4"/>
<rect x="222.5" y="244" width="68" height="71.5" fill="#04050b"/>
<path d="M249.8 254.5l-1.1 -1.3M246 263.6l0.5 0.9 -0.5 1.5M229.3 310.2l-1.4 -0.9M241.7 269.1l-1.4 0.5 -0.4 1.3 -0.6 0.8M246 245.3l-1 -0.3 -0.6 0 -1.2 0M270.1 280.9l1.5 0.4 1.3 0.4M239.3 272.3l0.5 -1.5M249.8 254l0.9 -0.4 0.9 -0.8M262.2 283.6l-0 1.4M277.7 281l0.1 -1.1 0.2 -1M277 272.9l1.2 -0.7M230.6 275.3l-0.3 1.5M275.3 272.5h.1M274.1 275.6l1 -1.1M289.1 297l0.4 -1.2M228.7 275.2l1.1 -0.5 1.2 -1.1" stroke="#3040aa" stroke-width="1.5"/>
<path d="M249.5 262.1l0.2 1 0.7 1.3M274 283.3l0.9 1.2 1.5 0.6 0.8 1.2M250.9 254.8l0.3 1.1M281.9 298.2l0.9 0.6M277.1 289.8l1.1 0.2 1 1.3M273.9 288.5l1.4 0.7M236.5 288.2h.1M281 295.5h.1M278.6 292.5h.1M265.7 297l-0.3 1.5M244.8 280.2l0.8 -0.9 0.2 -1 -0.8 -1.4M230.1 261.3l0.7 -1.2M262.8 272.9l0.8 -0.9M242.1 284.7l-1.4 0.4M236.6 300.9l1.6 -0M250.5 273.4l-1.6 -0.3 -1.3 -1M255.8 256h.1M257.7 280.1l0.2 -1.6 -0.5 -0.9M238.3 305.4l-0.1 -1.5 0 -1.2M284.9 291.4l0.7 1.3M225.3 303.1l-1.7 0 -0.1 0.3M240.9 293.9l0.4 -1.3" stroke="#3040aa" stroke-width="1.8"/>
<path d="M258.9 270.1l-1.5 0.2M254.2 270l0.3 -1.5M253 255.7l-0.6 0.9M256 286.6l-1.4 1M261.1 289.3h.1M267 293.2h.1M281.3 276.8l-0.9 -0.9 -1.3 -0.2" stroke="#3040aa" stroke-width="2.0"/>
<path d="M227.4 301.9l-0.1 -1.6 -1.2 -1.1M226.9 276.9l-0.8 1.4 -0.1 1.7 -0 1.4M243.2 309.2h.1M278.6 281.5l-0.5 1.4 0.3 1.3 1 1.3M257.8 285.1h.1M287 261.4l0.6 1.1 0.2 1.1 0.8 0.7M245.3 295h.1M241.1 278.7l0.9 -0.8 1.2 -0.5M278 286.1l1 -0.9M248.4 268h.1M230.3 246.2l0.8 -0.9 1.1 -0.3M278 266.6l1.1 0.1M283.3 281.6h.1M267.7 268.4l0.4 -1 -0.6 -1.5 0.2 -1.5M228.7 310.8l-0.7 1.3 0.6 1.3M278.4 273.3l1.5 -0.7 0.5 -1M272.7 292.9l1.6 -0.1 0.9 0.8M233.6 259.8l0.6 0.8M229.4 266.3h.1M265.3 264.1l1 -0.1 1 -0.4M271.3 263.1l-0.9 1.3M271.9 271.1l0.8 0.9M224.9 247.1h.1M230.9 268.5l0.2 1.7 0.8 1.4M287 276.6l-0.6 1.2 -0.7 1 -0.3 1.3M251.3 301.6h.1M238.6 301.2l0.8 1.2M273.5 271.5l-1 0.4 -1.2 0.9 -1 0.7" stroke="#3445b2" stroke-width="1.5"/>
<path d="M243 280.9l0.5 -1.2 0.8 -1.4M274.6 283l1.3 -0.3 1.3 -0.4M265.4 277.5l-1 -0 -0.8 -0.6M276 283.1h.1M258.6 262.1l0.2 -1.2 -0.6 -1M243.2 259.4h.1M224.2 252.5l-0.5 -1.4 -0.2 -0.7M240.3 296l1.2 -0.2M249.5 254l0.7 1.5M253 263.2h.1M229.6 311.6h.1M258.9 262.1l1.3 -0.9 0.9 -0.9 0.9 -0.7M251.6 300.6l0.6 -1.4M249 275l0.6 1.4M251.6 290.2h.1" stroke="#3445b2" stroke-width="1.8"/>
<path d="M251.5 275.8l1.2 0.7 0.3 1.6M283.9 300.7h.1M236.9 307.9l-1.6 -0.3 -1.2 -0.7M267.7 274.6l1.4 -0.3M284.5 313.4h.1M281.6 312.9h.1M255.2 292l0.1 1.7 0.3 1.5M282.5 263.4l0.8 -0.9M281.8 274.7h.1M285.5 275.3l0.8 -1.5 1.4 -0.4M245.5 246.6l-0.6 -1.1 0.1 -0.5M280.7 291l1 -0.4 1.2 0.5M251.6 260.2h.1M258.9 262.8l-1.1 0.2M281.7 284.9l0.9 -0.8 1 -0.4M238.8 249.6h.1M243.6 280.1l-1.4 -0.3 -1 -1.1M279.1 271.7h.1M247.4 266.3l-1 0.8M284.4 299.2l0.6 1.3" stroke="#3445b2" stroke-width="2.0"/>
<path d="M261.8 269.1l-1.2 -0.9M239.3 282.9h.1M283.8 314.4l-0.9 0.1 -1.3 0M264.9 295l1.5 0.4M270.1 311.1l-1.2 -0.2 -1.2 0.7M231.3 279.8h.1M253 286.8h.1M287.2 298.5l1 0.3M271.6 293.3l-0.2 -1.4 0.3 -1.3 -0.2 -1.4M233.2 265l-1.4 -0.1 -1.2 0.6 -1.5 0.4M251.4 275.4h.1M248.1 284.3h.1M235.3 246.7l1.1 0.6 1.3 -0.3M284.8 277.8l0.3 -1.4M281.3 308.3h.1M226.8 310.1h.1M251.4 273.1l-0.6 -1.5M251 270.9l-1.2 -0.9 -1.2 -0.8M241.3 249.5l-1.1 -0.3M287.4 274.4h.1M254.6 267.7h.1" stroke="#3c4ec4" stroke-width="1.5"/>
<path d="M280.7 271.8l0.3 1.3 -0.4 1.3M267.6 264.4l0.2 -1.2 0.7 -1.1 1.1 -0.8M265.8 274.3l-0.5 1.2 0.1 1.3 0.8 0.8M273.1 279.3h.1M275.2 285l0.2 -1.4M265.7 265.3h.1M240.3 296.6l0.5 0.9M254.7 247.8h.1M251.6 263l-0.3 1.2" stroke="#3c4ec4" stroke-width="1.8"/>
<path d="M251.9 281.1l-0.8 1.2 -1 0.6M252.1 256.8l-1.3 -0.5 -1.2 -0.2M247 266.5l1.1 0.2 1.1 0.1M238.1 275.8l-1.4 -0.3M286.3 268.2l0.6 1.5 -0.5 1.2M259.4 270l0.2 1.3 1.1 1.1 1 0M230.4 260h.1M248.5 257.6l-0.1 -1.1 0.4 -1 0 -1.2M225 263.6l-0.8 -1.5 -0.7 -1.5M242.6 265.7h.1M287.7 266.1h.1" stroke="#3c4ec4" stroke-width="2.0"/>
<path d="M241 254.6h.1M283.6 282.2h.1M262.7 276.8l1.2 -0.3M251.8 270.4l-1.3 -0.9M245.9 298.4l0.6 -0.9M281.2 302.1l0.6 -1.5M280.2 283.6l-0.3 -1.5M262.7 285.8l-0.4 -1.2 -0.3 -1.2 -0.7 -0.8M280.3 313l-0.8 1.2M266.5 294.2h.1M230.4 276.6l0.2 -1.6 0.4 -1.6M255 284.2l-1.1 -0.8M247.8 268.1l1.2 -0.3M224 273.7l0.1 -1.2 -0.3 -1M271.4 287.7l1.2 0.8M256.3 250.8h.1M239.9 252.9l-1.1 0.9 -0.4 1.2M272.7 266.7l-1.1 -0.5M247.1 294l0 1M248.1 275.2l1.4 0.7M285.1 269.2l1.2 -1" stroke="#4658cc" stroke-width="1.5"/>
<path d="M254.8 290.7h.1M249.9 274.1l-1.4 0.1 -0.8 0.8M279.9 302.8l-1.3 -0.4 -0.9 0.5M256 270.2l-1 -0.6M272.8 281.4l-0.2 -1.2M279.3 309.9l-1.1 0.1M229.8 280.3l-0.9 -1.1 -1.4 -0.2 -1.4 0.2M244.5 296.7l1 0.4M243 304.2h.1M271.1 305.3l-1.6 -0.3M246.4 306.8l-1.5 0.5M287.3 303.3l-0.4 -1.6 -0.7 -0.8M269.9 300.6l1.4 -0.1 1.5 -0.6M227.2 258.2h.1M239.6 255.2h.1M282.1 296.8l-0.5 1.6" stroke="#4658cc" stroke-width="1.8"/>
<path d="M234.6 303.8l1.4 0.5M257.6 286.3l-1.1 -0.1M235 277.9h.1M277.4 274.7l-0.9 1 -0.6 1.5M224.4 310.4h.1M264.4 267.1l-1.2 0.2M242 275.9h.1M257.3 277.6l-1.2 0.1 -1.2 0.7M257.2 268.6h.1M277.2 272.3l1 0.8M260.7 291.5h.1M250 299.5h.1M252.5 294l-1.1 0.5M246.6 267.5l-0.4 1.2M251.2 256.3l1.4 0.7 1.5 0.7M286.3 296h.1M225.6 263.7h.1M284.7 274l-0.6 0.9 -1.1 0.4M238.5 294.7h.1M238.5 312.8l0.4 -1.4 1.2 -1M272.2 276.5l0.4 1.6 1.1 0.9 -0 1.1M265.4 268.5h.1M236.6 276.9l-0.5 -1.1 0 -1.6 0.9 -1.4M250.6 301.3l1.2 -0.6" stroke="#4658cc" stroke-width="2.0"/>
<path d="M252.5 294l-1.1 1M267 293.2l-0.3 0.7" stroke="#2cc2e2" stroke-width="1.4"/>
<path d="M251.1 282.3l-0.4 0.3M243.2 309.2l0.6 -0.4M284.5 313.4l-0.4 1.1M260.7 291.5l-1 0.8M271.6 281.3l-0.1 -0.5M281.7 290.5l-0.6 0.1M271.9 271.1l0.8 0.7M229.6 311.6l0.3 -0.4M265.7 265.3l-0.9 0.1M279.1 271.7l-1.2 0.3M275.3 272.5l-1.2 -0.4M249.5 275.9l-0.3 0.2" stroke="#2cc2e2" stroke-width="1.7"/>
<path d="M283.6 282.2l0.1 0.5M272.8 281.4l1.1 -0.9M267.7 274.6l0.6 -0.9M266.5 294.2l0.8 1M240.3 296l-0.8 1.2M272.7 292.9l1.1 -0.3M265.3 264.1l0.9 -0.4M262.2 283.6l-0.5 -0.4M253 263.2l-0.2 1.1M265.4 268.5l-0.2 -0.6M250.6 301.3l1 0.3M271.3 272.8l0.6 0.5" stroke="#30d4e0" stroke-width="1.4"/>
<path d="M249.6 256l0.3 0.1M241.9 277.9l-0.5 -0.8M281.6 312.9l0.8 -0.9M242 275.9l-0.1 -1.1M230.3 276.8l0.5 0.8" stroke="#30d4e0" stroke-width="1.7"/>
<path d="M254.8 290.7l0.4 -0.9M283.9 300.7l1 0.9M278.6 281.5l-0.1 1.1M283.8 314.4l-0.1 -0M253 286.8l0.8 -0.3M281 295.5l-1.2 -1M255 284.2l0.9 -0.4M250 299.5l1.2 0.1M265.7 297l-0.6 -0.2M280.5 271.6l-0.3 0.1M234.2 260.6l0.9 -0.2M243 304.2l0.1 0M284 274.9l-0.5 -0.1M250.5 273.4l0.4 0.1M277 272.9l-0.8 -0.1M251.4 273.1l-0.6 0.5" stroke="#40e6c8" stroke-width="1.4"/>
<path d="M269.6 261.3l0.1 -1.1M230.6 275l0.8 0.3M278 266.6l-0.9 -0.8M239.8 270.8l0.3 -0.2M229.1 265.9l0.4 -0.1M249.6 276.4l0.1 -0.6M238.2 302.8l0.9 -0.3M240.2 249.2l-0.3 -0.8" stroke="#40e6c8" stroke-width="1.7"/>
<path d="M276 283.1l0.7 0.8M257.4 270.3l-0.9 0.2M243.2 259.4l0.8 1.1M242.1 284.7l0.8 -0.9M261.1 289.3l0.2 0.5M250.8 253.6l0.9 0M238.8 249.6l-0.1 1M251.3 264.2l-0.7 1.1" stroke="#52ee9c" stroke-width="1.4"/>
<path d="M249.5 262.1l-0 -1.1M251.8 270.4l-0.2 0.4M277.2 286.3l0.8 -1M275.3 289.2l-1.1 -0.7M229.8 280.3l0.3 -1.2M246.2 268.7l-0.4 0.5M243.6 280.1l-1 1.2M289.5 295.8l-0.4 0.3" stroke="#52ee9c" stroke-width="1.7"/>
<rect x="292.5" y="244" width="68" height="71.5" fill="#04050b"/>
<path d="M303.8 266.4l0.5 1.1 0.8 1.4M318 269l-0.1 1.7M316.5 258.4l0.5 1.6M327.3 290.6l-1.4 -0.5 -0.8 -0.9 -0.8 -0.9M324.4 290.1l-1.6 -0.2 -1.1 0.1M307.7 257.3l-1 -1M318.9 278.4h.1M332.1 253.5l1.5 0M338.4 257.5l1.1 0.4 1 1.4M320.1 247.1l-0.3 -1.7M306.2 310.4l-1.7 0.3M307.3 261.4l1.1 -0.1 0.9 -0.8M330.1 266.6h.1M329.9 267l0.7 -1.4 1.4 -0.4M322.9 296.1l-1 0.5M304 282.8l-1.1 1.1M320.9 283.8l0.9 0.6M304.2 258.6l0.7 -0.9 1.5 -0.6M329.3 255.3l-0.6 1.4 -1.2 0.9 -0.5 1.1M328.8 259.1l1.1 -1.1M304.9 259.4l1.2 0.1" stroke="#3040aa" stroke-width="1.5"/>
<path d="M295 304.9l1.1 -1M310.3 301.2h.1M329.9 301.8h.1M321.8 265h.1M347.1 304.8h.1M296.6 280.4l-0.9 -1.2M328.7 257.5l0.3 -1.3M328.4 303.8l0.2 -1.4 0.4 -1.4M332.2 252.6l1 -0.6M332.8 248.7l0.9 -0.7 1.6 0.1 1.1 0.8M314.9 312h.1M305.5 252.3l-1.4 -0.2 -1.1 1 -1.1 1M331.4 291.3l0.8 0.8 1.4 0.8 0.6 0.9M317.9 258.6l0.3 1.3 -0.8 1.3M330 282.5l0 1.1M300.6 288.4l-1.4 -0.3 -1.6 0.5M336.2 274.3l-1.2 0.5" stroke="#3040aa" stroke-width="1.8"/>
<path d="M336.1 281.6l-0 1.2 -0.2 1M335.5 257.2h.1M305.6 247.6h.1M327.2 310.8l0.2 1.3M326.7 253.8l1 -0.5 1 0.4M311.1 267.5l1 0.5M319.9 254.3h.1M301.1 268.7l-0.9 1.2 -0.9 0.6 -1 -0M298.7 261.5l0.2 1.4M307.1 261.2l-0.1 1.3M332.7 273.8l0.1 -1.2 -0.2 -1.5M324.3 268.2l-0.4 -1.2M298 260.5l0.8 -0.6 1.2 -0.4M333.7 254l1.2 -0.3 1.1 -0.7 0.5 -1.3M324.8 261.7l0.4 -1.4 0.1 -1.2 -0.1 -1.1M341 304.5l0.6 1.3M305.6 295.6l-1 0.6 -1 1.3 -0.4 0.9M333.1 261.2l0.5 1 1 0.8 1.4 0.2M321 287.5l0.5 -1.4" stroke="#3040aa" stroke-width="2.0"/>
<path d="M302.1 281.9l0.6 1.4 -0.8 1.5M313 312.2l-0.3 1.6M313.3 309.5l-0.5 -1.3 0.1 -1.1M304.6 278.1h.1M313.1 261.2l1.3 0.9M293.9 301.6l-0.4 -1.5M310.5 263.1l-1.4 0.6 -1.5 -0.1M334.8 264.5l0.2 -1.5M316.4 248l-1.1 -1.2 -1.5 -0.3 -1.3 -0.2M315.5 281.3l1 0.9 0.4 1.5M319.2 283.7l-1.1 -0.7M298.7 264.5l1.5 -0.1M304.3 289.3h.1M314.4 288.8l1.5 -0.1M309.9 248.3l1.1 -0.1M311.8 254.9h.1" stroke="#3445b2" stroke-width="1.5"/>
<path d="M348.6 245.4l-1 0.6 -1.3 -0 -1 -0.4M330.1 288.6l1 0.3M340.6 301l0.8 1.1 0.7 1.5 0.1 1.6M297.2 260.3l1.4 -0.1 0.9 -1.2M300.4 305.8l0.6 1.1M327.8 259.3l0.9 -0.5 1.6 0.1 1.2 0.1M329.9 266.2l-0.7 -1.1M307.8 283.5l-1.7 -0M342.9 283.5l-0.8 1.1M334.6 267.7l1.1 -1.1M318 259.7h.1M304.2 280.4l-1.5 0.2M306.2 251.4l-1.1 1 -1.1 1M352.6 307.4h.1M313.8 254.5l-1.2 1.1M296.7 283l-1.5 0.8M296.1 269.8l1.4 0 0.8 0.7 0.5 1M322.7 259.4l0 1.3M304.1 291l-1.5 0.2 -1.2 0.1M342 288.3l-1.4 -0.9" stroke="#3445b2" stroke-width="1.8"/>
<path d="M310.6 292.6l1.1 -0.9M339.6 275.9l0.9 -1.3M323.8 304l0.7 -1.1 0.4 -1.1M331.8 273.8h.1M324.1 273.2l1.1 0.8 1.4 0.7 0.8 0.6M340.4 267.6l1.1 0.9 0.3 1.3 0.4 1.1M301 269.7l-0.9 0.7M306.6 292.1l0.9 1.1M323.3 268.3l0.9 -1.3M334 250l1.3 0.4M319.2 254.6l-1.6 0.2 -0.7 0.8 -0.7 1.2M304.5 254.6l1.1 1.2 1 0.9M315.4 302.5l-0.1 1.4M319.4 288.2l-1 -0.3 -1.6 0.6M307.4 274.3l0 1 1 1.2 0.5 1M305.9 259.6l-0.4 0.9M316 249.8l0.5 -1.4 -0.4 -1.2 0.2 -1.5M323.6 289.7l-1.1 0.5M313.3 287.2l0.7 -1.5M314.8 258.1l-0.3 -1.3 -0.8 -1.2 -0.7 -1.5M317.5 297.9l-1.2 0.2" stroke="#3445b2" stroke-width="2.0"/>
<path d="M336.6 266.3l1.1 -0.4 1 -0.5M301.1 254.5l0.1 -1.7 -0.3 -1M335.7 261.7l-0.9 0.5M294.1 252.4l1.5 0.7 0.4 1.2 0.3 1.3M310.2 301.8l1.2 0.7M333.1 281.8l-0.4 1 -1 0.7M327.1 283.2h.1M321.1 294.8l-0.4 1.5 -0 1.6 -0.9 1.2M311.5 289.4l-0.7 -1.5M300.1 273.5h.1M330.6 308.4h.1M333.3 293.9l0.9 1M298.9 309l1.4 -0.2" stroke="#3c4ec4" stroke-width="1.5"/>
<path d="M305.5 258.4l-1.3 0.3M336.6 287.3l1.2 1M326.5 284.7l1.1 -0.4 0.9 -0.6 0.5 -1.1M307 247.6l-1.6 0 -1.3 1.1M301.2 295.1l-1.5 0.6M319.9 273.8h.1M300.1 247.5h.1M296.8 255.7l-0.5 -1.5 -0.3 -1.1M305.2 271.4h.1M314.4 263.7h.1M293.6 285.3h.1M313.1 299.5l1.3 -0.5 1.1 -0.8 1.6 0.4M329.4 303.6l-0.1 1.5 0.4 1.5M307.1 280.5l-1 0.3M330 288.5h.1M319.1 308.2h.1" stroke="#3c4ec4" stroke-width="1.8"/>
<path d="M331.6 283.2l0.3 -1.3 0.5 -1.2M318.2 294.8l1.1 0.3M309.1 298.7l-1 0.7 -0.8 0.6M331.7 311.6l0.7 -0.8 1.3 -0.2 1.1 -0.2M332.5 262.9h.1M302.5 278.2h.1M332.2 276.1h.1M327.3 246.3l-1.2 0.5 -1.4 0.9M304.6 251.3l-1.1 0.6M320.7 292.8l1 0.6 0.7 1.1M297.3 292.1l0.8 1.2 0.4 1.6 1.1 1.3M321.7 264.3l-1.4 -0.1M300.1 260.7l-1.2 1M316.4 293.5l1.4 1M317.2 254.3l0.7 1.3 0.2 1.4M355.9 302.1l-0.7 -0.8 -1.5 -0.4 -1.1 -1M316.2 275.8l-0.2 1.6M356.5 303l-0.8 1 -1.2 0.2M314.3 281.4h.1M323.9 301.8l-0.1 -1.2M339.9 284.8l-0.9 1.3M314.3 273h.1M295.9 259.2l-1 -0.3M328.4 250.9l0.1 1.5M335.3 272.4h.1M319.2 272l-1.3 -0.3M333.4 292.1l-1.1 -0.5M317.1 286.4h.1" stroke="#3c4ec4" stroke-width="2.0"/>
<path d="M309.4 275.2h.1M332 292.8l1.1 -0.8 0.3 -1.3M327.8 277.9l-1.7 -0 -0.7 0.8M311.8 289.1l-0.3 1.1M301.1 306.4h.1M319.9 285.5l-1.2 -0.7M328.8 274l-0.8 0.9 -1.3 0.2 -1.2 0.9M296 267.7h.1M306.8 275l-0.7 -1M297.3 295.6l-0.5 -1.4 0.8 -1.3 1 -0.3M319.4 298l-0.5 1.3M328.5 255h.1M317.5 307.4l-0.8 1.2M302.4 246.8h.1M329.1 268.4h.1" stroke="#4658cc" stroke-width="1.5"/>
<path d="M322.8 257.3l-1.2 0.1M343.8 252.6l1.1 -0.2 0.8 -0.9 1 -1M303.7 248.8l-1.3 0.9M302.7 245.1l0.2 1.3M333.9 272.7l-0.6 1.3M319.1 290.1h.1M324.9 271.1l0.1 -1.3 -0.2 -1.1M326.6 273.8l-1.5 0.5M320 291.3l-0.8 1.2 -0.7 1.1M339.7 250.5h.1M336.6 265.5h.1M299 287l-1.6 -0.3M312.7 257.3l-0.5 1.5M333.2 290.5h.1M315.4 291.9l0.3 -1 0.7 -0.8M315.8 303.8l-1.3 0 -1.2 -0.3 -0.8 -0.8M315.4 283.4l0.4 1.1 0.7 1.1 0.2 1.6" stroke="#4658cc" stroke-width="1.8"/>
<path d="M310.4 304.1l0.5 -1.5 0.8 -1.2M318.9 305.4h.1M305.3 255.5l-1.3 0.1 -1 0.2M326 284.4l-0.5 1M326.1 251.8l1.2 -0.5 1 -0.1M314.4 290.3l0.8 -0.7M323.4 309.5h.1M321.1 251.5l-0.3 -1.1M302.4 271.2l-0.6 -1.2M323.7 249.5l0.7 -0.9 1.3 -0.1M318.3 291.5l-1.1 -1 -1 0.2M316.7 291.6l-0.2 1.2 -1.2 1M310.7 289.9l-0.5 -1M329.6 266.6h.1M333 298.9l-1.2 -0M325.2 297.8h.1M324.8 270.6l-1 0.4" stroke="#4658cc" stroke-width="2.0"/>
<path d="M312.8 308.2l-0.2 0.1M320.7 292.8l0.3 -0.3M313.1 261.2l-1.1 1.1M327.2 310.8l1.2 0.2M305.1 252.4l1.1 -0.6M294.9 258.9l0.5 0.8M330.1 266.6l0.2 0.6" stroke="#2cc2e2" stroke-width="1.4"/>
<path d="M344.9 252.4l-0.8 0.8M302.5 249.6l1 -0.5M314.4 263.7l-0.2 1.1M301 269.7l-0.8 0.1M310.2 301.8l0.3 1.1M320 291.3l-0.4 1.1M333.4 292.1l1.1 -0M297.6 288.6l0.7 0.2M317.5 297.9l-0.7 -0" stroke="#2cc2e2" stroke-width="1.7"/>
<path d="M295 304.9l-0.4 0M300.4 305.8l-0.7 -0.4M293.9 301.6l-1.1 1.1M327.1 283.2l0.1 0.7M328.7 257.5l-0.1 0.1M321.1 294.8l-0.3 0.1M310.8 287.9l-0.1 1.1M317.4 261.2l-0.9 0.4M310.3 288.9l-1.1 1M321 287.5l-0.3 0.2" stroke="#30d4e0" stroke-width="1.4"/>
<path d="M301.1 254.5l0.9 1.2M320.2 264.2l-0.8 -0.9M306.7 256.3l-1 -1.1M301.1 306.4l-0.9 0.4M328.7 253.7l1.1 -0M319.2 283.7l-0 -0.5M314.9 312l-0.1 -0.8M325.2 258.1l0.7 -0.6M304.1 291l0.8 0.1" stroke="#30d4e0" stroke-width="1.7"/>
<path d="M321.8 265l0.1 -0.7M334.8 262.2l-0.8 0.8M326.1 246.8l0.2 -1M342.9 283.5l1.1 0.7M320.1 247.1l1.1 0.4M315.8 288.7l-0.1 -0.4M330.6 265.6l-1.2 0.2M319.2 272l1.1 -0.5M330.1 283.5l-0.9 0.7M324.8 270.6l-0 -0.9" stroke="#40e6c8" stroke-width="1.4"/>
<path d="M333.1 292l-1.2 -1.1M298.5 294.9l-0.3 -0.4M329.4 303.6l0.2 -0.9M316.2 275.8l-0.7 0.4M314.3 281.4l-0.5 -0.1M323.9 301.8l0.3 -0.2M341.6 305.8l0.4 0.9M306.4 257.2l-0.9 1.2M333.6 262.2l-0.1 0.4" stroke="#40e6c8" stroke-width="1.7"/>
<path d="M331.7 311.6l-0.7 0.6M333.9 272.7l-0.1 0.9M324.4 290.1l-0.6 -1.1M324.8 268.7l-0.1 0.4M356.5 303l0.8 -0.3M333.7 248l0.9 -0M329.6 266.6l0.4 -0.8" stroke="#52ee9c" stroke-width="1.4"/>
<path d="M300.1 247.5l0.2 -1.2M293.6 285.3l-0.8 0.4M333.6 253.6l0.2 -0.9M298.2 270.5l-1 0M296 267.7l1 -1.2M305.5 260.6l-0.2 0M298.2 270.5l0.9 -0.8" stroke="#52ee9c" stroke-width="1.7"/>
<rect x="152.5" y="351.5" width="68" height="71.5" fill="#04050b"/>
<path d="M166.9 360l0.7 1.2 -0.4 1M171.5 373.4l-0.5 1.1M164.6 395.3l-1.5 0.1 -1.2 -0.6 -1.3 -1M192.4 386.1l1.4 -0.6 1.1 0.4M167.5 371.4h.1M154.1 409l-0.5 1.2 -0.2 1.6M173.9 414.4l-0.6 -0.9M170.4 414l1 0.4M205.7 410.7h.1M206.8 407.2h.1M160.6 406.2l0.8 0.9 0.8 1.2M188.4 397.4l0.4 1.5M179.7 413.9h.1M166.9 370.4l1.2 -0.4 1.2 -0.3M200.5 399.8h.1M190 357.7l0.8 0.7 0.8 1.5" stroke="#3040aa" stroke-width="1.5"/>
<path d="M180.7 400.2l-1.2 0.5M194.1 386.5l-1 -0.1M173.6 361.9h.1M166.4 411.6l1.1 -0.8 0.1 -1.5 0.6 -1.3M214.6 413.9h.1M193.3 417.8l-0 -1.3 0.6 -0.9M180.5 378.9l-1.6 0.1M203.1 403h.1M170 402.3l0.5 -1.4M178.4 392.6l1.5 -0.5 1.5 0.1M164.3 369.7l1.2 0.6 1.3 -0.4 1.1 0.5M201.1 368.9l-0.7 1.1M168.1 380.4l-1.3 -0.9 -0.9 -0.5M215.6 410.6l1.3 0 1.1 -0.4M181 413.5l-0.6 1M177.3 370.4h.1M199.1 405.3h.1M181.7 419.1l0.1 -1.4M154.6 413.8l-0.9 -1M176.8 405.3l1.5 -0.7 1.2 0.3M184.4 382.3l-1.3 -0.2 -0.9 0.5 -0.9 1.2M186.4 401h.1M154.8 378.5l1.2 -1M184.5 413.4h.1M207.2 406.6h.1M178.5 381.2l0.7 0.8 0.4 1.1" stroke="#3040aa" stroke-width="1.8"/>
<path d="M202.4 407.2l-1 -0.8M164.6 403.1l0.9 -0.7 1.1 -0.2 1.2 -0.3M207.9 421.1l1.2 0.1 1 0.2M178.1 386.8l-1.1 -0 -1.6 0M165.5 383l0.6 -0.8M182.6 396l-0.5 -1.2M181.4 384.3l0.1 -1 -0.7 -1M167.2 386.6l0.6 -1.3M218.2 402.7l0.4 1M170.3 373l-0.8 -0.8 0.1 -1.2 -0.9 -1M197.6 408.3l-0.6 -1.5M194.4 383h.1M212.5 392l-0.5 1.2 -0.3 1.4M218.7 407l0.8 -1.2M175.3 388.9l1.1 -0.1 1.5 0.2M202.5 387.7l-0.9 0.9 -0.4 1.2M212.5 406.3l-1 1.2M188 364.8l1.4 -0.9M166.6 360.2l-1.5 0.3M153.5 386.5h.1M182.5 353.9h.1M156 387.8h.1" stroke="#3040aa" stroke-width="2.0"/>
<path d="M194.8 410.2h.1M189.2 377.1l1.2 0.4M160.9 368.4l-1.2 -0.3M171.4 373.3l-1 0.4 -0.6 1.3M201 392.7h.1M174.6 381.6l0.9 -0.5M190.2 386l1.2 -0.3M187.1 383.7h.1M167.5 397.7l-1.5 -0.8 -1.4 -0.8M217.1 408.9l-0.7 1.2 -0.2 1.2M209.7 359.1l0.5 1M167.8 392.2l0.9 0.5M167.3 413.1l-0.4 -0.9 -1.3 -0.4 -1.4 -0.5M168.3 370.2h.1M199.8 417.5h.1M202.4 417.8l0.5 -1.3M192.1 387.5l1.5 0.4M186.8 415.8l-1.5 -0.9M168.6 367.1h.1M194.9 413.1l-1.6 0.4M184.5 375.8h.1M195.7 401.7h.1M190.6 417.3l0.8 -0.8 -0 -1.2M177.7 414.8l-1.2 -0.4" stroke="#3445b2" stroke-width="1.5"/>
<path d="M184.4 376.1l1.6 -0.3M178.9 394.3l1.2 -0.9 1 -1.1M189.3 420.7h.1M214.8 397.6l0.5 0.9 0.9 1.4 -0 1.4M184.8 375.2l-1 -0.4 -1.1 0.4M209.3 402.6h.1M185.7 374.5l1.6 0.1M185.8 367.5l-0.9 0.6M195.9 404.9l1.5 -0.5M160.3 403.7h.1M177.6 400l0.5 -0.9 0.4 -1M173.4 362.3l1.5 0.4M203.5 419.5l1.2 -0.3M192.3 396l1.2 -0.5 1.6 0.1 0.8 0.8M205.2 391.5l0.7 -1.1M190.1 407l0.2 -1M178.9 393.4l1.2 -0.7M202.7 412.1h.1M192.5 355.7l-0.3 -1M179.7 402l-0.8 0.6 -1.1 0.5M202.9 405.6l1.1 -0.6 1.2 -1.1M196 352.8l-0.9 0.6 -1.2 0.9M200.4 396.7h.1M190.1 402.7l0.2 -1.3M162.7 403.9l0.7 -1.1 1.1 -0.4M199.9 421.1l-1.3 0.3 -1.2 -0.2M162.5 406.2l-0.3 -1.3 -1.5 -0.7M219 417.4l0 -1.5M184 376.5l-0.3 1.7M185.7 386.9l-0.9 -1.4 -0.2 -1.1M187.3 354.5l0.3 -1.3M193.7 362.9l0.7 0.9M167.7 400.6l1.4 0.6M190.6 390l-0.6 1.1 -0.9 0.7" stroke="#3445b2" stroke-width="1.8"/>
<path d="M217.3 416.6h.1M208.2 398.1l0.7 -0.9M167.4 408l-1.5 0.4 -1.1 1.3 0.1 1.5M170.9 377.5h.1M199.9 417h.1M156.6 414.6h.1M165.5 416.9l1.4 0.4 1.1 1.1M170.9 396.6l-1.3 0.2M194.9 357.8l-1.5 0.7 -1.2 -0.1 -1 -0.4M191 412.2l-1 -0.1 -1.6 0.1M203.9 389.2l1.3 0.6M154.3 409.9h.1M186.3 363.5l0.9 0.5 0.7 1.1M163.2 402.7l0.8 -1.1" stroke="#3445b2" stroke-width="2.0"/>
<path d="M156.3 391.4h.1M199.9 392.7l1.4 0.8 1.4 -0.4M194.3 410.3h.1M202.9 367.5l-1.3 -0.5M170.9 388l0.2 -1.3M172.8 418.2h.1M153.9 405.3l-0.4 -0M200.6 401.2l-0.3 1.2M156 366.6h.1M198.9 398.6l0.9 0.5M210.3 394.1l1.2 -1.1M185.1 400.2l-1 0.5M173.1 402.9l-0.3 1.1 -0.3 1.1 0.2 1.1M182.2 393.8h.1M175.3 386.5l-1.5 0 -1.1 -0.4M218.7 402.3l0.2 1.1M198.5 396.4l-0.8 0.7 -0.8 1.2M202.5 421.8l0.8 -1.4 -0.1 -1.3 -0.3 -1.3M169.4 416.1l-0.6 -1.5M186.2 377.9l0.1 1M158.3 412.9l-0.5 1.5M199 410.5l1.5 0.5 1.5 0.7M181.3 397.1l1.5 0.2 1.4 -0.1 1.2 1.1M202.7 377.5l0.9 1.4 0.8 1.1 -0.3 1.1" stroke="#3c4ec4" stroke-width="1.5"/>
<path d="M207.8 409l0.4 1.3 -0.6 0.9M199.8 418.2l0.9 -0.8 0.5 -1M177.3 412.3l-0.4 -1 -1.5 -0.8M207.9 412.6l1.5 -0.4M191.8 394.7l-0.2 -1.6M205.7 418.4l-1.4 0 -1.1 -0.2M183 411.1h.1M215.1 363.5l0.5 1M203.5 406.9h.1M180.8 392.2l-1.2 -0.3 -1.2 -0.6M163.2 420h.1M181.2 362.8l-0.7 -0.9 -1.3 -0.8M173.4 360.3h.1M154.4 411l-0.5 -1.4 -0.4 -1.4M174.2 360.4l-0.3 1.3M185.7 363.7l0.9 -0.8" stroke="#3c4ec4" stroke-width="1.8"/>
<path d="M160.6 401.3l1.2 0.1M177.8 382l-0.4 1M186.2 389.2l1.2 -0.8M207.6 385.5h.1M168.8 395.6l-1.2 -0.6 -0.5 -0.9 0.3 -1M197.2 373.4l1.2 0.1M171.2 380.1l0.3 1.1 -0.7 1.3M209 397.8l1.4 0.2 0.9 1 0.4 1.5M191.4 405.9l0.3 1.1M175.4 419.6l-0.6 -1.1M156.2 393.9l-1.4 0.6 -0.7 1.3 0.1 1.6M196.4 405.4l-0.3 1.5M197.8 398.9l-0.1 -1.3M164.5 409.3h.1M214.5 411.3l1 0.5M172.4 370.4l-1 0.7 -1.3 0.5M194.6 353.7l-0.8 0.9 -0.7 0.9M170.7 407.8l-1.6 -0.4 -1.3 -1M159.9 386l-1.2 0.5M187.9 398.3h.1M203.6 360.4h.1M214.3 420.9l1.3 -0.9 1.3 -0" stroke="#3c4ec4" stroke-width="2.0"/>
<path d="M168.2 415.2l0.8 1.3M215.2 414.8h.1M202.8 386.3l-0.1 1.2M213 411.9l-1.2 -0.1 -1.1 0.4M160.5 385.4h.1M175.9 371.5h.1M153.7 411.4l-0.2 0.1 0 1.3 0 1.2M172.7 374.9h.1M179 379.2h.1M206.7 361.2l1.2 1M187.2 421.6h.1M157.3 421.6l-0.5 0.4M191.5 417.8l1.2 0.6 1.1 -0.3M177.8 404.4l-1 0.4M213.1 397.7l1.2 0.1M167 366.5l-1 -0.5M202.3 354.8h.1M218.3 389.8h.1M184.7 383.6l1.1 1M207 383.7l-0.8 0.7 -1.1 0.5M156.6 360.2h.1M154.2 361.1l0.3 -1.3M209.2 408.9l-0.8 1.2M204 386.4l-0.2 -1M204 411.7l0.2 1.4M153.8 416.8h.1M154.8 407l-0.9 1.3M176.7 389.8h.1M198.7 400.8l1.2 -0.8M180.9 395.7l-1.1 0.5 -1.3 0.6 -1 -0.5M178.1 410.5h.1M157.1 370.7h.1M168.2 356.5l1.1 1.2 0.7 0.8M195.8 380.9l-1.4 -0.2M191.8 367.4l1 0.8" stroke="#4658cc" stroke-width="1.5"/>
<path d="M216.6 406.4l0.6 1M162.2 421.9l0.8 -0.8M202 402.7l0.3 -1.2 0.2 -1.7M202.9 417.4l-0.3 -1.4 0.7 -1M154.6 401.4l1 0.7M170 393.6l0 -1.6M181.2 358h.1M187.9 376.8l1.6 -0.4 0.5 -0.9M181.6 372.4l-0.6 1.2 -0.1 1.3M189 375.4h.1M174.4 411.7l-0.5 -1.2M208.4 354.7l-1.1 -0.8 -1.1 0M206.6 387.7l-1 1 -1.1 0.5 -1.4 -0.4M183 407.6h.1M178.7 374.1h.1M194.3 388.9h.1M194.9 418.9l1.1 0.4 0.3 1 -0.6 1.4M166.3 418.9h.1" stroke="#4658cc" stroke-width="1.8"/>
<path d="M162.1 380.1l0.2 -1.1 -0.8 -1.4M210.9 367.5l-0.8 -0.7 -1 -1 0 -1.6M200.9 416.4l0.3 -1.5M202.2 389.4l1.6 0.4M188.3 407.1h.1M175.8 410.9l1 1M170.6 408.4h.1M182.6 357h.1M166.2 416.2l1 0 1.1 -0.5M168.3 412.5l1 -0.8 1.4 0M215.2 393.9l-1.1 -0.4 -1.3 -0.6 -1.2 -0.4M217.1 417.7l-1.2 0.4M213.1 397.6l-1.2 0M166.4 369.3h.1M177.6 364.4l-1.5 0.4 -0.8 0.8M161.8 378.9l-1.3 -1 -0.6 -1.3M159.3 358.3l-1 -1.3M187.4 386.7h.1M174 401.9h.1M197 354.8l-0.4 -1.5M175 390.1l-0.8 1.2 -1.1 0.5M199.3 416h.1M171.2 393.3l1.2 -0M197.1 390.3l-1.1 1.3" stroke="#4658cc" stroke-width="2.0"/>
<path d="M171.1 386.6l0.2 0.5M211.3 399l-0.2 0.4M174.9 362.7l-0.4 0.9M205.2 391.5l-0.2 0.6M205.7 410.7l-0.2 -0M185.1 400.2l0.5 -0.6M181 413.5l-0 0.7M177.3 370.4l-1.1 0.9M168.3 370.2l0.4 -0M160.5 377.9l-0.1 0.3M205.2 389.8l0.9 -0.3M203.6 360.4l0.6 -0.9M165.1 360.5l0.7 -0.8M184.8 385.5l-1.1 -1M177.7 414.8l0.8 0.9M204 381.1l-0.4 0" stroke="#2cc2e2" stroke-width="1.4"/>
<path d="M202.8 386.3l-0.9 -0.8M180.7 400.2l-0.3 -0.1M156.3 391.4l1.2 -0.9M207.6 385.5l0.4 0.6M217.3 416.6l0.2 0.7M187.2 421.6l-0.3 -0.3M162.3 379l1.1 -0.6M201.1 414.9l0.7 1M202.2 389.4l0.9 -0.5M177.8 404.4l-0.6 0M178.4 392.6l-0.3 -0.8M215.1 363.5l-0.1 -0.8M199.8 417.5l1 0.3M170.9 396.6l-0.8 -0.3M203 417.8l1.1 0M193.4 358.5l-0.6 0.3M192.1 387.5l0.9 0.6M171.2 393.3l-1 -0.7" stroke="#2cc2e2" stroke-width="1.7"/>
<path d="M199.9 392.7l-1 0.7M211.7 411.9l1.2 -0.4M166.4 411.6l0.5 -0.1M175.9 371.5l0.1 -0.7M201.2 416.5l-0.9 -0.3M192.8 418.4l-0.6 0.4M156 366.6l0.9 0.3M175.8 410.9l0.3 -1M204.8 419.2l0.3 -1M182.6 357l0.8 -0.3M210.3 394.1l-0.5 -1M170.1 392l-0 -0.7M212.7 393l-1.2 -0.1M199.9 417l0.6 -0.4M189.5 376.4l0.5 -1.1M215.5 411.8l0.2 -0.5M188.8 398.8l-1 -1.1M180.9 395.7l0.8 -0.8M194.6 353.7l0.6 1M194.3 388.9l1.1 -0.6M184.5 375.8l0.3 -0.2M153.5 386.5l0.1 -1.1M192.8 368.2l1.2 -0.5M190.6 390l0.4 0.9" stroke="#30d4e0" stroke-width="1.4"/>
<path d="M168.2 415.2l-1.1 -0.5M153.5 412.7l0.3 -1.1M214.6 413.9l0.3 -0.7M168.8 395.6l-0.3 -0.8M200.4 402.3l-0.1 0.7M180.8 382.3l1 1.1M215.6 410.6l-0.9 0.5M168.7 392.7l-0.8 -0.6M192.5 355.7l0.2 -0.7M175.3 386.5l0.9 -1.1M196 352.8l0 0.4M196.8 398.2l-0.6 -0M185.3 415l0.1 -0M196.6 353.3l-0.4 0.6M188 364.8l0.4 0.8M187.9 398.3l0.2 0.5" stroke="#30d4e0" stroke-width="1.7"/>
<path d="M160.9 368.4l0.7 0.8M216.2 399.9l-0.4 -1M180.5 378.9l1.1 -1.1M201 392.7l0.5 -0.7M183.8 374.8l1 -0.6M208.2 398.1l0.2 -0.4M214.3 397.8l0.7 -0.2M200.5 370l0.3 0.1M218.3 389.8l-0.5 0.2M191.8 394.7l0 -0.9M206.8 407.2l0.6 -0.7M178.9 393.4l-0.8 0.9M154.8 407l0.1 -0.5M179.7 413.9l1.2 -0.1M174.4 411.7l-0.1 0.1M154.6 413.8l-0.3 0.8M178.7 374.1l0.7 -0.3M154.3 409.9l-0.9 -1.1M194.3 363.8l1.2 0.8M196 391.5l-0.5 -0.1" stroke="#40e6c8" stroke-width="1.4"/>
<path d="M193.3 416.5l-0.1 1M202.2 401.5l0.5 -0.7M174.6 381.6l-0.9 0.3M188.3 407.1l-0.8 -0.7M171.5 381.3l0.5 -0M202.6 416.1l-0.3 0.8M196.4 405.4l-0.4 -0.8M167.8 385.3l-1 0.6M211.9 397.7l-0.6 0.9M204.2 413.1l0.4 -1.2M219.5 405.8l0.9 -0.8M181.8 417.7l0.8 1M202.5 387.7l-0.7 -1.1M158.3 412.9l0.5 1M219 415.9l-1.2 1.1M174.2 391.4l1.1 0" stroke="#40e6c8" stroke-width="1.7"/>
<path d="M201.4 406.4l-0.6 1M184.4 376.1l0.7 -0.6M171.5 373.4l0.5 0.1M190.4 377.5l0.1 1.1M172.8 418.2l-1.1 -0.9M153.5 405.3l0.7 -0.5M167.9 370.4l1.1 -1.1M154.6 401.4l-1 -0.6M174.8 418.5l0 0.1M164.6 396.1l0.4 0.7M208.4 410.2l-1.1 0.2M169.5 372.2l-0.9 -0.3M166.4 369.3l-1.2 0.2M189 375.4l-0.9 0M157.1 370.7l-0.8 0.5M191 412.2l-0.7 0.6M170.7 407.8l0.8 0.6M181.4 383.9l-1 -0.9M186.4 401l1.1 1M154.4 411l-0.3 -0.7" stroke="#52ee9c" stroke-width="1.4"/>
<path d="M161.8 401.4l0.7 -0.9M193.1 386.4l-0.3 0.1M172.7 374.9l-0.1 1M179 379.2l0.5 -0.1M207.8 362.2l-0.7 -0M195.9 404.9l0.9 -0.8M198.5 373.5l-0.1 0.1M170.9 377.5l0.4 1.2M177 386.8l-0.7 -0.5M165.5 383l0.1 -0.9M182.1 394.8l-0.2 0.8M169.2 411.7l0.4 0.9M183 411.1l0.4 0.5M181.2 358l-1.1 0M202.7 412.1l1.1 0.3M218.6 403.7l-0.4 0.1M181.6 372.4l-0.8 -1.1M203.5 406.9l1 1M162.7 403.9l0.6 0.2M168.6 367.1l0.7 0.2M194.9 413.1l0 0.1M200.5 399.8l-0.1 0.9M178.5 381.2l-1.1 0.9" stroke="#52ee9c" stroke-width="1.7"/>
<rect x="222.5" y="351.5" width="68" height="71.5" fill="#04050b"/>
<path d="M281.1 387.1h.1M237.8 420.6l-0.7 1.1 -0.9 0.3M245 394l1 -1.2 0.7 -0.9 0.5 -1.3M228 396.7h.1M240.8 392.3l0.7 -1.4M252.8 377.6h.1M238.3 368.5h.1M248.4 364.6l-0.9 -1.3 -1.1 -0.4M271.5 398.6l0.8 -1.5M289.2 352.6l0.1 1.6 0.3 1.3M242.2 390.5h.1M273.8 408.2l-1 -0.4 -1.2 -0.9 -1.6 -0.4M287.2 416.3l1.2 0.3 1.1 -0.1M238.6 374.9l-0.8 -1.3 -0.1 -1.3 0.8 -1.2M250.5 373.7h.1M285.3 421.6l-0.3 0.4M246.2 412.5l1 0.6 0.6 0.8 0.3 1.5" stroke="#3040aa" stroke-width="1.5"/>
<path d="M227.2 381.6l1 -0.3 1 -1.3M265.5 381.5l0.4 -1 -0.5 -1.4M268.5 387.7l-1.2 1.2M238 364.5h.1M236.8 408.7h.1M237.8 409.8l1 1.1M249 407.5l-1.5 -0.2M280.1 386.6l1.2 0.4M236.8 364.4l0.9 -0.7M235.4 365.9l-0.6 -0.9 -1.4 -0.5M228.8 380.7h.1M267.9 378.4h.1M229.2 371.9l1.4 -0.5" stroke="#3040aa" stroke-width="1.8"/>
<path d="M244.2 415.8l-0.2 -1.1 -1 -1.2 -1 -1.1M243.1 396.8l-1.1 1.2 -0.5 0.9M231.7 371.9l0.7 -1.5 0.2 -1.3 0.3 -1.4M246.9 372.7l-0.9 1.1 -0.1 1.5M276 395.6l-1.1 0.8M223.9 383.3l-0.1 1.2 -0.3 1 0 1.3M235.9 374.6l1.5 0.2 1.3 -0.5M237 386.6l1.3 0.2M241.9 358.4l1.6 -0.5M263.5 390h.1M230.3 417.4l-0.7 -1 -1 -0.9M236.4 382.2h.1M286.9 371l1.4 0.5M227 364.8l-0.4 1M271.6 379.7l0.3 -1.7 -0.5 -0.9M257 392.7l1.1 -0.3M269.5 389.6l0.5 -1.6 -0.2 -1.5M287.1 367.2h.1M257.5 381l-0.1 1 0.3 1.2M278.8 372.1l-0.5 1M287.6 372.8l0.5 1.6M272.9 413l-1.4 -0.1" stroke="#3040aa" stroke-width="2.0"/>
<path d="M233.9 421.1l1.7 -0.2M228.3 400.6l-0.1 1.7M240.7 388.4h.1M276.8 414.3l0.1 1.3M275 381.9l-1 0.9M235.6 390.8l0.7 -1.5M275.4 398.5h.1M241.7 416.5l-0.2 -1.3 -0.4 -1.3M232.4 380.7h.1M245.4 390.8l0.8 -1.1 0.9 -0.6M288.2 372.3l-1.2 -0.2 -1.1 -0.7 -1.1 -0.5M236.3 379.4l-0.4 -1.2 -0.2 -1.5" stroke="#3445b2" stroke-width="1.5"/>
<path d="M283 412.8l1 0.3M248.6 420.6h.1M265.3 371.5l-0.8 1M235 390.7l1 -1 0.5 -1.4 -0 -1.2M250.9 357.4h.1M240.7 407.1l0.6 1.4 -0.1 1.3 -0.8 0.8M236.5 413.4l0.6 1.5 1.1 1.3M230.2 360.4l0.1 1.4 -0.8 1.2M274 412.2l0.6 1.2 0.8 1.4M280.1 394l0.9 -1.5M250.4 394.8l0.6 0.9 1.1 0.5 0.9 1.4M287.7 407.4l-1.4 0.1 -1.2 0.6 -1.4 0.1M223.6 406.9l-0.1 1.1 0 1.1 0 1M228.1 395.6h.1M275.9 379.9h.1M252.6 405.6l1.2 0.6M231.2 387.9l-1.1 -0.3 -1.5 -0.4 -1 -1.3M262.4 420.6l-1.1 -0.4 -0.8 -0.9" stroke="#3445b2" stroke-width="1.8"/>
<path d="M237 399.5l0.6 -1M233.7 417.9l-0.8 0.7 -1.3 1.1M244 357.2l-1 -0.5 -1 -0.6M275.9 391.1l1.4 -0.1M223.9 384.2l0.4 1.1M248.5 387.8l-0.1 -1.1M230.5 410.9l-1.4 -1M275.6 396.7l-1.6 -0.5 -0.6 -1.6M281.1 405l-1.6 -0.3 -1.3 1M237.4 382.6h.1M227.1 395.5l-0.5 1.6 -0.6 1.3M235.5 417.2l-1.2 0.9M225.7 415.4l1.2 -1.1M264 408.2l1.3 -0.1 1.3 0.4 0.6 1.3" stroke="#3445b2" stroke-width="2.0"/>
<path d="M263.9 384.4l-1.2 0.2 -1.3 0.3 -1.3 -0.2M250.2 374.4l-0.2 1.3 -0.5 0.9M263.3 414.8l-1.6 -0.5M252.4 368.2l-0.2 -1.6 -0.2 -1.1M251.5 411.3l1.4 -0.8 0.6 -0.8 0.8 -1.2M243 389.7l1.6 -0.2 1.2 1.1M280.7 410.5h.1M265.3 384l-1.2 0 -1.2 -1.2M240.8 354.1l1.3 0.2M241.5 411.1l-1 -1.3 -0.9 -1.2M272.5 405.3l-1.6 -0.3 -1.5 0.2M263.6 395.8l-0.5 1.1 0.1 1.5 -0.2 1.3M225.8 414l0.1 1.6M250.3 393.7l0.8 0.7M229.6 387.9h.1M250 379.1h.1M268.4 401.4l-1.4 -0.3M253.2 400.1l-0.2 1.2 0.4 0.9M248.5 387l1.4 1 1.1 1.1M275.5 402.8l-1.2 -0.4" stroke="#3c4ec4" stroke-width="1.5"/>
<path d="M262.7 400.6h.1M278.6 382.6l1.2 -0.3M245.6 414.6l1.2 0.7 1 1M286.3 421l-1 0.9 -1.3 0.1M284.4 374.7h.1M248.3 394.6h.1M260.6 404.5h.1M257.1 371h.1M234.8 353.4l-1.4 -0.7 -1.1 -0.2M233.1 387.3h.1M231.6 406.1h.1M223.6 389.1l-0.1 1M254.8 375.6h.1M232.2 366.6l-0.7 -1.1M243.6 411.6h.1M244.7 379.6l0.6 -1.1 0.8 -0.9 1.1 -0.5M252.3 385.5l0.2 1.2M239.5 407.8l-0.7 1 -0.3 1M229.9 411.6h.1M232.9 403.8l-1 -0.5" stroke="#3c4ec4" stroke-width="1.8"/>
<path d="M244.3 374.6l0.7 -1.4 0.9 -1M270.3 384.6l0.6 1 0.6 1.2M240.7 372.7l-1.4 -0M240.4 413.3l-1 0.5M258.9 378.4h.1M236.3 410.2l0.8 0.8M224.3 420.7l-0.5 1.3 0.6 0M283.6 403.8l-0.6 1.6M228.9 413.5l-0.8 -1.4 -0.2 -1.6M284.1 383.6h.1M265 373.8l1.6 -0.2M242.6 407.9h.1M283 394.4h.1M245.3 412.1l-0.2 -1.2 -0.4 -1.1 -0.6 -1.3M249 390.7l-1.4 0.6 -1.2 0.4" stroke="#3c4ec4" stroke-width="2.0"/>
<path d="M282 359.4l1.3 1.1 1.6 0.5 1.4 -0.2M268.1 379.6h.1M246.5 379.5l0.8 1.1M287.1 357.9l1 -0 1.3 -0.5M253.9 386.5l1.3 -1M248.8 367.8l0.6 -0.9 0.6 -1 -0 -1.7M232.5 401.3l-0 -1.6M224.2 399l-0.7 -1 0 -1M230.5 397.6h.1M256.6 365l-0.9 0.7 -1.5 -0.1 -1 0.3M288.3 362.5l0.9 0.8M282.3 396.5l-0.8 0.8M248 363.7l-1.6 0.3M230.1 355.5l1.1 -0.1 1.1 -0.6M239.3 375.6h.1" stroke="#4658cc" stroke-width="1.5"/>
<path d="M244 409.8l1.5 0.1 1.4 0.8M262.3 410.2l1.7 0.3 1.2 0.6 1.1 0M287.5 375.4l-0.5 -1M232.2 392.8l0.9 0.4 1.5 0.7 0.7 0.8M245.5 394.5l-1.1 0.9 -1.5 0M257.8 394.3l1.3 -0.9M257.8 404.8l-0.9 1.1M248.2 419.2h.1M230.1 374.5l-0.9 0.7M237.5 400.3l-1.4 -0.8 -1.3 -0.3M269.3 416.9l-0 -1.1 -0.5 -1M256.7 421.8l-0.5 0.2M270.4 407l-1.3 -0.8M252.1 391.5l-0.8 -0.7M278.9 414.4l-0.9 1.4 -0.6 1.2M227.6 400.7l-1 -0.2M246.5 375.5l-1 -1.3" stroke="#4658cc" stroke-width="1.8"/>
<path d="M224.7 362.3h.1M227 386.9l-0.4 1M227 417.6h.1M225.1 413.2l-0.7 0.8M243.7 405.1l-0.1 1.6 -0.4 1M240.3 371.8l0.4 -1 -0.4 -1.1M237.5 420.1l0.6 -1.5M248.9 378.9l-0.5 1.2M254.1 386.7l-1.1 1.1 -0.1 1.2M283.8 368.3l0.6 -1.4 -0.4 -1.6 0.8 -1.4M246.1 356.6h.1M247.1 370.2h.1" stroke="#4658cc" stroke-width="2.0"/>
<path d="M268.1 379.6l0.8 0.2M257.8 394.3l-0.8 -0.3M257.1 371l0.5 -0.5M288.3 371.5l-1.2 -1.2M269.1 406.1l-0.2 -1.1" stroke="#2cc2e2" stroke-width="1.4"/>
<path d="M223.8 422l0.1 -0.7" stroke="#2cc2e2" stroke-width="1.7"/>
<path d="M255.1 385.5l-1 1" stroke="#30d4e0" stroke-width="1.4"/>
<path d="M223.9 384.2l0.1 -0.7" stroke="#30d4e0" stroke-width="1.7"/>
<path d="M244.5 395.4l-1 -0.7M287.1 357.9l0.4 0.3" stroke="#40e6c8" stroke-width="1.4"/>
<path d="M234.6 393.8l0.7 -1.1M233.1 387.3l-0.4 1.2M247.8 413.8l1.1 -0.6" stroke="#40e6c8" stroke-width="1.7"/>
<path d="M229.5 363l0.4 -0.4M247.2 377.1l-0.7 0M252.1 391.5l-1.1 1.1" stroke="#52ee9c" stroke-width="1.4"/>
<path d="M230.7 371.4l-0.9 -0.6" stroke="#52ee9c" stroke-width="1.7"/>
<rect x="292.5" y="351.5" width="68" height="71.5" fill="#04050b"/>
<path d="M335.1 384.8l0.3 -1.2M303.3 355.5l0.2 -1.2 1.2 -1 1.1 -0.6M313.9 372.3l-1.6 0.2 -1.2 0 -1 -0.6M301.1 354.9l-1.3 0.8M355.4 362.9l1.2 -0.2 1.1 0.7M337.6 392.7l1 1.4 -0.3 1.6 0.2 1.1M317.5 361.8h.1M336.3 385.9h.1M312.1 391.5l-1.6 0.1 -0.9 1.1M318.4 378.5l0.9 -0.7 1.1 -1 0.3 -1.3M301.7 411.9l0.4 -1.5 0.8 -1.3M348.8 378.4l-0.9 -0.9M317.6 391.4l1.2 -0.1 1.4 -1" stroke="#3040aa" stroke-width="1.5"/>
<path d="M315.8 354.1l1.1 -0.7 1.1 -0.5 1.5 -0.3M311.3 357.6l0.1 1.3M302.3 395.7l-1.2 -0.6M327.7 354.6l-0.9 -1.5M330.5 393l-1.5 0.2 -1 -0.3 -1.1 -1.3M311 378.4l-1.1 -1.2 -0.2 -1.5 -0.7 -1.2M323.8 397.3l-0.6 -1.1M331.6 374.7h.1M332.4 358.2h.1M305.9 400.7l-1.2 -0M332.8 387.4h.1M350.6 403.7l1.6 0.1M306.9 415.5h.1M330.5 374.8l-0.8 0.9 -0.7 1.3M295.3 386.3l0.6 -1.1M314.4 361.1h.1" stroke="#3040aa" stroke-width="1.8"/>
<path d="M321 419.4h.1M316.4 360l-1.2 0.4M336.8 391.8l-0.8 -0.7M298.2 393.8l-0.9 0.9 -1.1 0.1 -1.1 -0.4M327 403l0.5 -1.4 -0.3 -1.5M326 421.6l-0.5 0.4M337.3 371.4l-0.8 -1 -1.3 -0.6M299.9 393.4l-1.1 0M302.1 355.7l-0.5 -1.1 -0.2 -1.4M327.1 374.4l0.7 -1 1.2 -0.4 1.5 -0.2M351.3 407.4l0.1 1.3 0.6 1.3M310.9 415.9h.1M320.1 376.5l-0 -1.7M310.6 385.6l1.4 -0 0.9 0.6M306 406.3l-0.4 -1.5 0.8 -1.4M326.3 379.5l1.7 0.1M332.9 356.1l-1.1 -0.3" stroke="#3040aa" stroke-width="2.0"/>
<path d="M333.6 366.6l-0.5 -1 0.5 -1.4M340.9 364.5l0.9 1.4 0 1.7M299.5 417.5l0.3 -1.5M301.3 381.7l0.8 -0.8M336 358.9l1.4 0.2M314.3 388.1h.1M342.1 358h.1M330.2 374.9l0.3 1.5M336.1 377.3l0.1 -1.6M350 365.5l-1.5 -0.3 -1.4 0.8M296.9 408.3l-0.2 1.3M301.7 373.2l0.9 -0.9 0.7 -0.8M315.5 362.9h.1M328.7 361.1l0.9 -0.6 0.7 -0.9M350.7 356l-0.4 -1.1M349.5 379.8l1.5 0M300.6 380.5h.1M308.7 384.8l0.4 1.2M310.2 382.7l0.1 1.6M298.1 370.5l-0.3 -1 -0.9 -0.6M344.7 405.9h.1M336.4 379l-0.7 1.3 -1.4 0.3M342.3 410.2h.1M324 368.8l0.3 1.1M300.4 416.2l0.3 -1.6M334.9 414l1.1 -1.1M311.6 374.4l-1.5 -0.4M342.5 368.4l0.3 1.4M304.6 399.2l-0.8 1M345.9 374.9l-1.2 -0.8M323.1 383.5h.1" stroke="#3445b2" stroke-width="1.5"/>
<path d="M333.4 385.7h.1M321 360l-1 1.3 -1.3 0.3M332.4 419.2h.1M346 370.1l0.5 -1.4M305.1 389.4l0.2 -1.4M324.5 376.4l1.1 -1.1 1 -0.6M293.8 390.4l0.7 1.2 1 0.8 0.9 0.6M317.7 391.7l0.6 -1.2M297.9 421.6l-0.7 0.4M303 401.4h.1M310.8 370.8l0.8 -0.9M309.6 371.5l0.2 -1.6 -0.9 -1M344.5 362.1l-0 -1 -0.5 -1.2M347.8 395.6l-1.4 -0.2M319.6 402.4l-0.7 -0.9 -0.5 -1.4M303 397.1l1.3 1.1M322.2 405.9h.1M336.6 370.5h.1M350.6 375.1l1.3 -0.5 0.4 -0.9 1.1 -1.3M328.6 389.6l-1 -0 -1.1 0.2 -1.1 0.4M324.8 369.5h.1M325.1 379.3h.1M329.8 380.9l-1 -0.6 -0.8 -1.1 -1.7 -0.3M344.2 365.1l0.5 1.5 0.1 1.3M299.4 384.4l-0.8 -0.6M327.5 404.9l1.5 0.3M316 420.4l-0.1 -1.2M351.2 374.3h.1M304.6 404.3l-1.5 -0.5 -0.5 -1" stroke="#3445b2" stroke-width="1.8"/>
<path d="M355.6 405.7l-1.3 -0.5M327.4 395.3l-1.3 -0M294.9 421.9h.1M312.7 397.2h.1M337.8 375.9l-0.3 -1.6 -1.1 -0.7M307.2 401.6h.1M298 365.9l-0.3 1.3 -1.4 0.7 -0.9 0.8M314.2 391.8l-1.3 -0.3M341.9 384.6h.1M320.1 403.2l-0.2 1.5 0.5 1.4 0.5 1M306.9 377.5l-1.4 0.8M314 393.7l0 1.6M359.1 405.3l-1.3 0.9 -1.1 -0 -0.9 -0.5M328.8 420.8l-0.9 -0.4 -1.4 0.5M308.7 356.6l1.2 1.1 1.5 0.6M341.9 372.9l-0.5 0.9M302.9 381.5l-1 0 -1.1 0.6M325 419.8h.1M315.3 408l-0.4 -1.2" stroke="#3445b2" stroke-width="2.0"/>
<path d="M300.1 377.8l1.4 0.5M324 369.8h.1M356.6 408.6h.1M331.1 364.4l1.1 0.5 0.6 1.2M339.9 354.6h.1M300.6 400.7h.1M294.2 384.6l-0.1 -1.6 -0.5 -1.4 0.1 -1.4M307.6 393.4l0.7 1.1 1 0.5M335.2 373.2h.1M339.2 386.1l1.2 0.1M331.3 383.7l1.2 -0.3 1.4 -0.7 1.2 0.1M312.1 374.3l0.6 -1.1 1 -0.5M345.1 379.5l-0.7 -1.2 -0.5 -1.5M326.6 380.7l-0.1 1.5M337.6 412.8l-1.1 0.4M322.4 402.4l0.1 -1.7M342.2 361.3l-1.6 0.5" stroke="#3c4ec4" stroke-width="1.5"/>
<path d="M303.7 373.6l0.7 0.7 0.2 1.3 -0.8 1.1M321.7 354h.1M313.8 378l0.3 -1 1 -0.6M305.7 391.7l-0.6 -1.6M301.2 400.7l0.8 0.7 1.2 0.3 1.3 -0.5M295.8 402.6h.1M326.2 358.7h.1M358 353.9l-0.8 0.7M315.7 412.9l-0.5 1.5 -0.4 1.5 -0.7 0.9M354 360l-1.1 -0.6M320.1 400.4h.1M335.5 398l0.4 -1.5M340.7 363.8l-1 -1.3 -0.8 -0.9M348.8 401.7l1.4 0.3" stroke="#3c4ec4" stroke-width="1.8"/>
<path d="M301.2 397l-1.2 0.9 -0.8 0.7M309.4 397.3l-1 0.4M320.6 361l0.6 0.8 1 0.4 0.4 1.2M298.8 389.6l-1.2 -1M324.8 352.8l1.4 -0.1 1 -0.1M333.5 406.1h.1M338 364.1l-0.3 1.4M343.5 384.3l-1.4 -0.9M301.8 401.6l-0.9 1.3 -1.1 1 -0.2 1.7M340.9 386.7l0.4 1.5M351.2 365.7h.1M338.3 382.2h.1M297.7 392.6l-0.8 -1.3M320.4 356.8h.1M312.3 399.8l1 -0.3M315.9 400.7l-1.4 0.6 -0.9 0.6M326.2 391.9l-1.2 -0.2 -1.2 0.2 -0.8 1.1M321.8 372.7l0 -1.2" stroke="#3c4ec4" stroke-width="2.0"/>
<path d="M321.4 397.2h.1M311.1 414.3l1.4 -0.2M339.3 406.8l0.8 -0.9M323.3 407.8l-0.3 -1.2M300.7 384.8l-0.5 0.9M324.5 356.3l-0.7 1.2 -0.6 0.9M322 388.2l1.4 0.8 0.5 1.2M297.3 401.8l1.2 -0.2M321.4 396.9l-0.6 -0.9 -0.3 -1.6M324 406.8h.1M340.1 405.4l-1.1 0.4M347 360h.1M307.3 388.4l1.3 -0.5 0.9 -0.6M302.5 352.8l0.8 0.7M316.6 404.3h.1M337.3 357.8l0.7 -1.4 1.3 -1M317.5 376.4l0.9 -0.6 0.3 -1.5M329.5 357.2l-1.4 0.2 -1 0.6M326.8 362.1h.1M335.3 394.3l-0.6 1M309.2 421.5l-0.9 0.5M311.1 407.4l-0.5 0.9" stroke="#4658cc" stroke-width="1.5"/>
<path d="M317.4 385.9l-1.4 -0.4 -1.1 0.2M343.6 396.5l-0.9 0.9M326.3 373.3l1 -1.1 1 0M308.8 363.7l-1.4 0.7 -1.3 0.9M336 366.1l1 0.5 1 0.6M322.3 371.5l-1.2 -0.5 -0.7 -1.5M301.8 400l-1 -0.4M325.7 378.3l-1.1 1M305.2 405.8l0.9 1M341.7 377.1l1 -0.2M321.1 386.1l-0.1 1.5 -0.1 1.2M340.6 371.7l-1.3 0.3M327.4 395.6l-0.4 -1.5M311.7 413.9l-1 -0.4 -0.8 -1.4M299 377.3h.1M307.2 360.6l0.4 -1.5M321.6 413.1l1.3 0.3M322 385.9h.1M300 375h.1M337.1 406l0.9 -0.5M301.4 387.8l-0.2 1.3M324.9 365.9l-1.3 0.6 -1.5 0.2" stroke="#4658cc" stroke-width="1.8"/>
<path d="M323 417.2l1.7 0.4M306.4 360.8h.1M309.7 364.5l-0.8 1 -0 1.6 0.4 1.2M334.1 418.3h.1M297.9 393.9l0.4 -1.4M337.9 373.3l0.4 1.4 -0.5 1.5M309.5 382.7h.1M335.2 388.4l-1.1 0.1M299.6 406.8h.1M321.1 389.9l-0.9 1.1 -0.7 1.1 -0.5 1.5M303.6 386.2l1.1 -0.3 1.6 0.5M351.1 371.6l0.3 1.1 -0.7 1.4M295.1 392.9l-0 -1.1M315.7 389.9l1.4 0.8 1.4 0.4 1.5 0.1M317.7 389.6l1.3 0.8M310 383.3l0.3 -1.3M328.3 398.6l0.8 -0.6 1.1 -0.4M330.2 364.1l-0.1 -1.2 0.9 -1.2M299.1 404.5l0 -1.3 -0.3 -1M313.3 400.2h.1M344.8 395.1l-0.3 -1.2M323.3 406.2h.1M327.1 412.5h.1M319.8 418.3l-1.4 0.1 -1.2 -0.9M301.1 388.1l-0.4 1.3 -1.3 0.6M337.2 369.9l-0.6 -0.9M312.5 409.7l0.7 1.4 0.8 0.7 1.5 -0.1" stroke="#4658cc" stroke-width="2.0"/>
<path d="M336.8 391.8l-0.7 -0.3M333.5 406.1l-0 -1M344.5 393.9l-0.3 0.1" stroke="#2cc2e2" stroke-width="1.4"/>
<path d="M299.2 398.6l-1 -0.7M308.7 387.8l-1 1.1M337.6 412.8l-0.9 -0.3M327.5 404.9l0.8 0.7M310.2 373.9l0.9 1M336.6 369.1l-0 -0.7" stroke="#2cc2e2" stroke-width="1.7"/>
<path d="M333.4 385.7l-1.2 0.3M341.9 367.6l-0.4 0.2M311.1 414.3l-0.5 0.5M332.8 366.2l-0.1 -0.3M299.6 406.8l1.1 -0.6M339.9 354.6l-1 -1.2M329 393.2l-0.2 0.8M326.2 358.7l-0.4 -1.1M358 353.9l0.9 -1.2M313.3 400.2l0.7 -0.2M310.6 408.3l-1.2 0.7" stroke="#30d4e0" stroke-width="1.4"/>
<path d="M322.1 362.3l-0.4 0.4M327.4 372.2l-0.4 -0.2M295.5 392.5l-1 0.3M316.6 404.3l-0.8 0.5M323.3 406.2l0.2 1.1" stroke="#30d4e0" stroke-width="1.7"/>
<path d="M324 368.8l-0.3 -0.5M326.6 380.7l-1.1 -0.5M322.5 400.7l-0.8 -0.6M304.6 404.3l0.6 0.5M331.7 355.8l0.8 -0.9" stroke="#40e6c8" stroke-width="1.4"/>
<path d="M303 401.4l-1.2 0.5M294.2 384.6l0.2 1.1M331.3 383.7l-0.4 0.4M332.4 358.2l1.1 -0M344.2 365.1l0.9 0.3" stroke="#40e6c8" stroke-width="1.7"/>
<path d="M318.7 361.5l0.9 -0.7M343.6 396.5l0.1 -1.2M338.2 395.6l0.6 0.5M329.1 398l-0.3 0.7M313.8 372.7l0.9 -1M336.1 412.9l-0.3 -0.3" stroke="#52ee9c" stroke-width="1.4"/>
<path d="M304.7 353.2l1.1 -0.1M330.6 372.9l0.8 0.3M299.4 384.4l1.2 -1M300.6 414.6l0.4 -0.8M335.3 394.3l-0.5 1.1" stroke="#52ee9c" stroke-width="1.7"/>
</g>
<text x="154.5" y="252.6" font-size="8.2" fill="#33a344">LY6-G</text>
<text x="154.5" y="260.6" font-size="8.2" fill="#2a8fb8">Hoechst</text>
<text transform="translate(186.5 241.8) scale(0.92 1)" font-size="8.3" text-anchor="middle" fill="#1e1e1e">Saline</text>
<text transform="translate(256.5 232.1) scale(0.92 1)" font-size="8.3" text-anchor="middle" fill="#1e1e1e">Saline</text>
<text transform="translate(256.5 241.5) scale(0.92 1)" font-size="8.3" text-anchor="middle" fill="#1e1e1e">+ LPS</text>
<text transform="translate(326.5 222.7) scale(0.92 1)" font-size="8.3" text-anchor="middle" fill="#1e1e1e">Con EVs</text>
<text transform="translate(326.5 232.1) scale(0.92 1)" font-size="8.3" text-anchor="middle" fill="#1e1e1e">(+ Scr miR)</text>
<text transform="translate(326.5 241.5) scale(0.92 1)" font-size="8.3" text-anchor="middle" fill="#1e1e1e">+ LPS</text>
<text transform="translate(186.5 329.7) scale(0.92 1)" font-size="8.3" text-anchor="middle" fill="#1e1e1e">Con EVs</text>
<text transform="translate(186.5 339.1) scale(0.92 1)" font-size="8.3" text-anchor="middle" fill="#1e1e1e">(+ Anti-miR 10a)</text>
<text transform="translate(186.5 348.5) scale(0.92 1)" font-size="8.3" text-anchor="middle" fill="#1e1e1e">+ LPS</text>
<text transform="translate(256.5 329.7) scale(0.92 1)" font-size="8.3" text-anchor="middle" fill="#1e1e1e">FVIIa EVs</text>
<text transform="translate(256.5 339.1) scale(0.92 1)" font-size="8.3" text-anchor="middle" fill="#1e1e1e">(+ Scr miR)</text>
<text transform="translate(256.5 348.5) scale(0.92 1)" font-size="8.3" text-anchor="middle" fill="#1e1e1e">+ LPS</text>
<text transform="translate(326.5 329.7) scale(0.92 1)" font-size="8.3" text-anchor="middle" fill="#1e1e1e">FVIIa EVs</text>
<text transform="translate(326.5 339.1) scale(0.92 1)" font-size="8.3" text-anchor="middle" fill="#1e1e1e">(+ Anti-miR 10a)</text>
<text transform="translate(326.5 348.5) scale(0.92 1)" font-size="8.3" text-anchor="middle" fill="#1e1e1e">+ LPS</text>
<rect x="0.5" y="0.5" width="519" height="625" fill="none" stroke="#231f20" stroke-width="1.2"/>
</svg>
</body></html>
